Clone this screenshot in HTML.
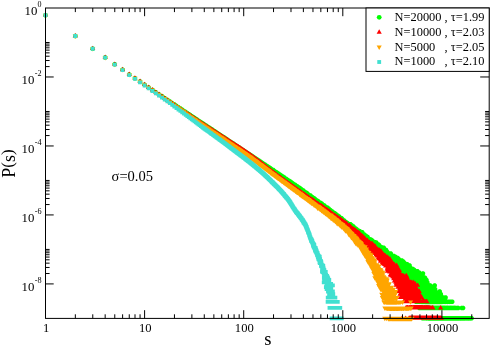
<!DOCTYPE html>
<html><head><meta charset="utf-8"><title>P(s)</title>
<style>
html,body{margin:0;padding:0;background:#fff;}
body{width:491px;height:346px;overflow:hidden;position:relative;font-family:"Liberation Serif",serif;}
svg text{font-family:"Liberation Serif",serif;fill:#000;}
</style></head><body>
<svg width="491" height="346" viewBox="0 0 491 346" style="position:absolute;left:0;top:0;will-change:transform">
<path fill="#00ff00" fill-rule="evenodd" d="M420.19 318.31L420.31 318.44L420.31 319.06L420.56 319.56L421.31 320.31L421.81 320.56L422.44 320.56L422.56 320.69L422.69 320.56L423.69 320.56L423.81 320.69L424.06 320.56L424.31 320.69L424.44 320.56L425.56 320.56L425.69 320.69L425.81 320.56L426.06 320.56L426.19 320.69L426.56 320.69L426.69 320.56L426.81 320.69L426.94 320.56L427.06 320.69L427.19 320.56L427.56 320.56L427.69 320.69L427.81 320.56L427.94 320.69L428.06 320.56L428.19 320.69L459.81 320.69L459.94 320.56L460.06 320.69L461.31 320.69L461.44 320.56L461.56 320.69L462.31 320.69L462.44 320.56L462.56 320.69L463.69 320.69L463.81 320.56L463.94 320.69L464.56 320.69L464.69 320.56L464.81 320.69L465.06 320.69L465.19 320.56L465.44 320.56L465.56 320.69L466.19 320.69L466.31 320.56L466.56 320.69L466.81 320.69L466.94 320.56L467.06 320.69L467.31 320.56L467.44 320.69L467.81 320.69L467.94 320.56L468.06 320.69L468.31 320.56L468.44 320.69L469.31 320.69L469.44 320.56L469.69 320.69L469.94 320.56L470.06 320.69L470.19 320.56L470.31 320.69L470.56 320.56L470.69 320.69L470.94 320.69L471.06 320.56L471.31 320.69L471.44 320.56L471.56 320.69L471.69 320.56L472.31 320.56L472.81 320.31L473.56 319.56L473.81 319.06L473.81 318.44L473.94 318.31L473.81 318.19L473.81 317.56L473.56 317.06L472.81 316.31L472.31 316.06L471.69 316.06L471.56 315.94L471.44 316.06L471.31 315.94L471.06 316.06L470.94 315.94L470.69 315.94L470.56 316.06L470.31 315.94L470.19 316.06L470.06 315.94L469.94 316.06L469.69 315.94L469.56 316.06L469.31 315.94L468.44 315.94L468.31 316.06L468.19 315.94L467.94 316.06L467.81 315.94L467.44 315.94L467.31 316.06L467.19 315.94L466.94 316.06L466.81 315.94L466.56 315.94L466.44 316.06L466.19 315.94L465.56 315.94L465.44 316.06L465.19 316.06L465.06 315.94L464.81 315.94L464.69 316.06L464.56 315.94L463.94 315.94L463.81 316.06L463.69 315.94L462.56 315.94L462.44 316.06L462.31 315.94L461.56 315.94L461.44 316.06L461.31 315.94L460.06 315.94L459.94 316.06L459.81 315.94L428.19 315.94L428.06 316.06L427.94 315.94L427.81 316.06L427.69 315.94L427.56 316.06L427.19 316.06L427.06 315.94L426.94 316.06L426.81 315.94L426.69 316.06L426.56 315.94L426.19 315.94L426.06 316.06L425.81 316.06L425.69 315.94L425.56 316.06L424.44 316.06L424.31 315.94L424.06 316.06L423.81 315.94L423.69 316.06L422.69 316.06L422.56 315.94L422.44 316.06L421.81 316.06L421.31 316.31L420.56 317.06L420.31 317.56L420.31 318.19ZM417.06 307.94L417.19 308.06L417.19 308.69L417.44 309.19L418.19 309.94L418.69 310.19L419.31 310.19L419.44 310.31L419.56 310.19L420.44 310.19L420.56 310.31L420.69 310.19L420.81 310.31L420.94 310.19L421.19 310.31L421.44 310.19L421.81 310.19L421.94 310.31L422.06 310.19L422.19 310.31L422.31 310.19L422.56 310.31L422.69 310.19L422.81 310.31L422.94 310.19L423.19 310.31L423.31 310.19L423.56 310.31L423.81 310.19L423.94 310.31L424.44 310.31L424.56 310.19L424.69 310.31L424.81 310.19L424.94 310.31L425.19 310.19L425.31 310.31L425.56 310.31L425.69 310.19L425.81 310.31L425.94 310.19L426.06 310.31L444.94 310.31L445.06 310.19L445.19 310.31L445.44 310.31L445.56 310.19L445.69 310.31L445.94 310.31L446.06 310.19L446.19 310.31L448.31 310.31L448.44 310.19L448.69 310.31L448.81 310.19L448.94 310.31L449.06 310.19L449.19 310.31L449.44 310.19L449.69 310.31L450.56 310.31L450.69 310.19L450.81 310.31L451.31 310.31L451.44 310.19L451.56 310.31L451.69 310.19L451.81 310.31L451.94 310.19L452.19 310.31L452.44 310.19L452.56 310.31L452.81 310.19L453.06 310.31L453.19 310.19L453.44 310.31L453.69 310.31L453.81 310.19L454.06 310.19L454.19 310.31L454.44 310.19L454.56 310.31L454.94 310.31L455.06 310.19L455.31 310.31L455.56 310.19L455.81 310.19L455.94 310.31L456.06 310.19L456.94 310.19L457.19 310.31L457.31 310.19L457.81 310.19L457.94 310.31L458.06 310.19L458.19 310.31L458.31 310.19L458.94 310.19L459.44 309.94L459.94 309.44L461.06 310.19L461.69 310.19L461.81 310.31L461.94 310.19L462.94 310.19L463.06 310.31L463.19 310.19L463.81 310.19L464.31 309.94L465.06 309.19L465.31 308.69L465.31 308.06L465.44 307.94L465.31 307.81L465.31 307.19L465.06 306.69L464.31 305.94L463.81 305.69L463.19 305.69L463.06 305.56L462.94 305.69L461.94 305.69L461.81 305.56L461.69 305.69L461.06 305.69L460.56 305.94L460.06 306.44L458.94 305.69L458.31 305.69L458.19 305.56L458.06 305.69L457.94 305.56L457.81 305.69L457.31 305.69L457.19 305.56L456.94 305.69L456.06 305.69L455.94 305.56L455.81 305.69L455.56 305.69L455.44 305.56L455.19 305.69L454.94 305.56L454.56 305.56L454.44 305.69L454.31 305.56L454.06 305.69L453.81 305.69L453.69 305.56L453.44 305.56L453.31 305.69L453.06 305.56L452.94 305.69L452.69 305.56L452.44 305.69L452.31 305.56L452.06 305.69L451.81 305.56L451.69 305.69L451.56 305.56L451.44 305.69L451.31 305.56L450.81 305.56L450.69 305.69L450.56 305.56L449.69 305.56L449.56 305.69L449.31 305.56L449.06 305.69L448.94 305.56L448.81 305.69L448.69 305.56L448.56 305.69L448.31 305.56L446.19 305.56L446.06 305.69L445.94 305.56L445.69 305.56L445.56 305.69L445.44 305.56L445.19 305.56L445.06 305.69L444.94 305.56L426.06 305.56L425.94 305.69L425.81 305.56L425.69 305.69L425.56 305.56L425.31 305.56L425.19 305.69L425.06 305.56L424.81 305.69L424.69 305.56L424.56 305.69L424.44 305.56L423.94 305.56L423.81 305.69L423.69 305.56L423.44 305.69L423.19 305.56L423.06 305.69L422.81 305.56L422.69 305.69L422.56 305.56L422.44 305.69L422.19 305.56L422.06 305.69L421.94 305.56L421.81 305.69L421.44 305.69L421.31 305.56L421.06 305.69L420.81 305.56L420.69 305.69L420.56 305.56L420.44 305.69L419.56 305.69L419.44 305.56L419.31 305.69L418.69 305.69L418.19 305.94L417.44 306.69L417.19 307.19L417.19 307.81ZM146.69 86.19L146.44 86.69L146.44 87.31L146.31 87.44L146.44 87.56L146.44 88.19L146.69 88.69L147.44 89.44L147.94 89.69L148.56 89.69L148.69 89.81L148.81 89.69L149.44 89.69L150.06 89.31L150.19 89.44L150.19 89.81L150.06 89.94L150.19 90.06L150.19 90.69L150.44 91.19L151.19 91.94L151.69 92.19L152.31 92.19L152.44 92.31L152.56 92.19L153.19 92.19L153.31 92.06L153.56 92.31L153.56 92.94L153.81 93.44L154.56 94.19L155.06 94.44L155.69 94.44L155.81 94.56L155.94 94.44L156.69 94.44L156.81 94.56L156.81 95.19L157.06 95.69L157.81 96.44L158.31 96.69L158.94 96.69L159.06 96.81L159.19 96.69L159.69 96.69L160.06 97.56L160.81 98.31L161.31 98.56L161.94 98.56L162.06 98.69L162.19 98.56L162.44 98.56L162.81 99.44L163.56 100.19L164.06 100.44L164.69 100.44L164.81 100.56L165.06 100.44L165.44 101.19L166.19 101.94L166.69 102.19L167.31 102.19L167.56 102.31L167.81 102.81L168.56 103.56L169.06 103.81L169.69 103.81L169.94 103.94L170.19 104.44L170.94 105.19L171.44 105.44L172.06 105.44L172.31 105.56L173.19 106.56L173.69 106.81L174.19 106.81L174.44 107.31L175.19 108.06L175.69 108.31L176.31 108.31L177.19 109.31L177.69 109.56L178.31 109.56L179.19 110.56L179.69 110.81L180.06 110.81L180.94 111.81L181.44 112.06L181.81 112.06L182.69 113.06L183.19 113.31L183.69 113.31L184.44 114.06L184.94 114.31L185.19 114.31L186.06 115.19L186.56 115.44L186.81 115.44L187.69 116.31L188.19 116.56L188.44 116.56L189.19 117.31L189.69 117.56L189.94 117.56L190.56 118.19L191.06 118.44L191.31 118.44L192.06 119.19L192.69 119.44L193.31 120.06L193.81 120.31L194.06 120.31L194.69 120.94L195.31 121.19L195.94 121.81L196.56 122.06L197.19 122.69L197.69 122.94L197.94 122.94L198.44 123.44L199.06 123.69L199.56 124.19L200.06 124.44L200.31 124.44L200.81 124.94L201.44 125.19L201.94 125.69L202.31 125.81L202.94 126.44L203.56 126.69L204.06 127.19L204.69 127.44L205.06 127.81L205.44 127.94L206.06 128.56L206.69 128.81L207.06 129.19L207.69 129.44L208.06 129.81L208.44 129.94L208.94 130.44L209.56 130.69L209.94 131.06L211.19 131.69L212.56 132.81L213.81 133.44L214.31 133.94L215.44 134.56L215.94 135.06L216.31 135.19L216.69 135.56L217.06 135.69L217.44 136.06L217.81 136.19L218.19 136.56L218.56 136.69L218.94 137.06L219.31 137.19L219.69 137.56L220.06 137.69L221.19 138.56L222.69 139.31L223.81 140.31L225.31 141.06L225.81 141.56L226.56 141.94L227.69 142.94L229.19 143.69L230.06 144.44L230.69 144.69L231.69 145.56L232.31 145.81L232.81 146.31L233.44 146.56L234.94 147.69L235.56 147.94L236.44 148.69L237.06 148.94L237.44 149.31L237.81 149.44L238.31 149.94L238.69 150.06L239.31 150.69L241.44 151.81L242.81 152.94L243.44 153.19L246.06 155.06L246.69 155.31L247.31 155.94L247.94 156.19L248.44 156.69L248.81 156.81L249.56 157.56L250.19 157.81L250.56 158.19L251.94 158.81L253.31 159.94L253.69 160.06L254.06 160.44L255.44 161.19L255.94 161.69L256.69 162.06L257.19 162.56L259.06 163.56L259.81 164.31L261.06 164.94L262.06 165.94L262.69 166.19L263.19 166.69L263.69 166.94L264.06 166.94L264.94 167.81L265.44 168.06L265.69 168.06L266.69 169.06L267.19 169.31L267.44 169.31L267.69 169.56L268.81 170.06L269.31 170.56L269.94 170.94L270.69 171.69L272.56 172.69L273.94 173.81L274.94 174.19L275.94 175.06L276.44 175.31L277.31 176.19L277.81 176.44L278.19 176.44L279.19 177.44L279.81 177.69L280.69 178.44L281.31 178.69L282.06 179.31L282.94 179.69L284.31 180.94L285.56 181.44L287.06 182.81L287.56 183.06L287.81 183.06L289.81 184.56L290.19 184.69L291.06 185.56L291.69 185.81L292.19 186.31L293.19 186.81L295.06 188.56L295.56 188.81L295.94 188.81L296.69 189.44L297.56 189.81L298.19 190.44L298.56 190.56L298.81 190.81L299.06 191.44L299.81 192.19L300.31 192.44L300.94 192.44L301.06 192.56L301.31 192.56L303.56 194.56L304.06 194.81L304.31 194.81L304.69 195.19L305.06 195.31L306.69 196.69L307.06 196.81L307.56 197.31L307.94 197.44L308.56 198.06L308.94 198.19L309.69 198.94L309.81 198.94L310.94 200.19L311.44 200.44L312.06 200.56L312.44 200.81L313.56 202.06L314.06 202.31L314.44 202.31L315.31 203.19L315.69 203.31L316.06 203.69L317.31 204.44L318.69 205.94L319.31 206.19L319.94 206.81L321.19 207.31L322.06 208.31L323.31 208.81L325.56 211.06L326.06 211.31L326.31 211.31L327.81 212.81L328.19 212.94L329.06 213.94L329.44 214.06L330.44 215.06L330.94 215.31L331.44 215.31L332.19 215.81L333.56 217.19L333.69 217.19L335.31 218.69L335.31 218.94L335.56 219.44L336.31 220.19L336.81 220.44L337.19 220.44L337.69 220.94L338.31 221.19L338.81 221.69L339.19 221.81L339.56 222.19L340.19 222.44L340.56 223.31L341.31 224.06L341.81 224.31L342.31 224.31L343.19 225.31L343.56 225.44L344.19 226.06L344.69 226.31L345.06 226.31L345.44 227.06L346.19 227.81L346.69 228.06L347.31 228.06L350.06 230.69L350.56 230.94L351.06 230.94L352.06 231.94L352.44 232.06L353.06 232.81L353.06 233.44L353.31 233.94L354.06 234.69L354.56 234.94L355.19 234.94L355.31 235.06L355.44 234.94L355.81 235.19L356.56 235.31L357.69 236.31L357.56 236.56L357.69 236.69L357.69 237.31L357.94 237.81L358.69 238.56L359.31 238.81L360.06 239.31L360.69 239.31L360.81 239.44L360.94 239.31L361.31 239.31L362.44 240.31L362.69 240.94L363.44 241.69L363.81 241.81L364.31 242.31L364.81 242.56L365.44 242.56L365.69 242.69L366.06 243.06L366.19 243.44L366.81 244.06L367.06 244.56L367.81 245.31L368.31 245.56L368.94 245.69L369.94 246.44L369.81 246.56L369.94 246.69L369.94 247.31L370.19 247.81L370.94 248.56L371.44 248.81L372.06 248.81L372.44 249.19L372.44 249.44L372.69 249.94L374.06 251.19L374.44 251.31L375.31 252.31L374.81 253.06L374.81 253.69L374.69 253.81L374.81 253.94L374.81 254.56L375.06 255.06L375.81 255.81L376.31 256.06L376.94 256.06L377.06 256.19L377.19 256.06L377.81 256.06L378.31 255.81L378.69 255.44L379.56 256.44L380.06 256.69L380.69 256.69L381.19 256.94L381.81 256.94L382.06 257.19L382.06 257.81L381.94 257.94L382.06 258.06L382.06 258.69L382.31 259.19L383.06 259.94L383.69 260.19L384.19 260.56L385.44 261.94L385.44 262.19L385.31 262.31L385.44 262.44L385.44 263.06L385.69 263.56L386.44 264.31L386.94 264.56L387.56 264.56L387.69 264.69L387.81 264.56L388.44 264.56L389.81 265.81L390.19 265.94L390.44 266.19L390.44 266.69L390.69 267.19L391.44 267.94L391.94 268.19L392.56 268.19L392.69 268.31L392.69 268.56L392.56 268.69L392.56 269.31L392.44 269.44L392.56 269.56L392.56 270.19L392.81 270.69L393.56 271.44L394.06 271.69L394.69 271.69L394.81 271.81L394.94 271.69L395.69 271.69L396.56 272.69L397.06 272.94L397.06 273.44L397.31 273.94L398.06 274.69L398.44 274.81L398.69 275.06L398.81 275.44L399.44 276.06L399.44 276.69L399.31 276.81L399.44 276.94L399.44 277.56L399.69 278.06L400.69 278.94L400.69 279.56L400.94 280.06L401.69 280.81L402.19 281.06L402.81 281.06L402.94 281.19L403.06 281.06L403.69 281.06L404.44 280.56L405.19 281.06L405.81 281.94L405.81 282.31L405.69 282.44L405.81 282.56L405.81 283.19L406.31 283.94L406.31 284.56L406.56 285.06L407.31 285.81L407.31 286.19L407.56 286.69L408.44 287.56L408.44 287.94L408.56 288.06L408.56 288.31L408.44 288.44L408.44 289.06L408.31 289.19L408.44 289.31L408.44 289.94L408.69 290.44L409.94 291.56L409.94 292.19L410.19 292.69L410.94 293.44L411.44 293.69L411.94 293.69L412.06 293.81L412.06 294.06L411.94 294.19L412.06 294.31L412.06 294.94L412.31 295.44L413.06 296.19L413.56 296.44L414.19 296.44L414.31 296.56L414.44 296.44L415.31 296.44L415.44 296.56L415.56 296.44L415.69 296.56L415.56 296.81L415.56 297.44L415.44 297.56L415.56 297.69L415.56 298.31L415.81 298.81L416.44 299.44L416.31 299.56L416.06 299.44L415.94 299.56L415.31 299.56L414.81 299.81L414.06 300.56L413.81 301.06L413.81 301.69L413.69 301.81L413.81 301.94L413.81 302.56L414.06 303.06L414.81 303.81L415.31 304.06L415.94 304.06L416.06 304.19L416.19 304.06L417.19 304.06L417.31 304.19L417.44 304.06L418.06 304.06L418.19 303.94L418.44 304.06L419.06 304.06L419.19 304.19L419.31 304.06L420.31 304.06L420.44 304.19L420.56 304.06L420.69 304.19L420.81 304.06L421.19 304.06L421.31 304.19L421.44 304.06L421.69 304.19L422.31 304.19L422.44 304.06L422.56 304.19L422.81 304.19L422.94 304.06L423.19 304.19L423.44 304.06L423.69 304.19L424.06 304.19L424.19 304.06L424.31 304.19L424.44 304.06L424.56 304.19L435.81 304.19L435.94 304.06L436.06 304.19L439.94 304.19L440.06 304.06L440.19 304.19L440.94 304.19L441.06 304.06L441.19 304.19L441.94 304.19L442.06 304.06L442.31 304.19L442.69 304.19L442.81 304.06L443.06 304.06L443.19 304.19L443.31 304.06L443.44 304.19L443.56 304.06L444.31 304.06L444.44 304.19L444.56 304.06L444.69 304.19L444.81 304.06L445.06 304.19L445.19 304.06L445.44 304.06L445.56 304.19L445.81 304.06L445.94 304.19L446.06 304.06L446.31 304.06L446.44 304.19L446.56 304.06L447.06 304.06L447.19 304.19L447.44 304.06L447.56 304.19L447.69 304.06L447.94 304.19L448.06 304.06L448.94 304.06L449.06 304.19L449.19 304.06L449.44 304.19L449.56 304.06L450.19 304.06L450.31 304.19L450.44 304.06L451.81 304.06L451.94 304.19L452.06 304.06L452.19 304.19L452.31 304.06L452.94 304.06L453.44 303.81L454.19 303.06L454.44 302.56L454.44 301.94L454.56 301.81L454.44 301.69L454.44 301.06L454.19 300.56L453.44 299.81L452.94 299.56L452.31 299.56L452.19 299.44L452.06 299.56L451.94 299.44L451.81 299.56L450.44 299.56L450.31 299.44L450.19 299.56L449.56 299.56L449.44 299.44L449.31 299.56L449.06 299.44L448.94 299.56L448.06 299.56L447.94 299.44L447.81 299.56L447.56 299.44L447.44 299.56L447.06 299.31L447.56 298.81L447.81 298.31L447.81 297.69L447.94 297.56L447.81 297.44L447.81 296.81L447.56 296.31L446.81 295.56L446.31 295.31L445.69 295.31L445.56 295.19L445.44 295.31L444.81 295.31L444.69 295.44L444.44 295.44L444.31 295.31L443.69 295.31L443.56 295.19L443.44 295.31L443.06 295.31L442.94 295.19L443.06 294.94L443.06 294.31L443.19 294.19L443.06 294.06L443.06 293.44L442.81 292.94L441.94 292.06L441.94 291.56L442.06 291.44L441.94 291.31L441.94 290.69L441.69 290.19L440.94 289.44L440.44 289.19L439.81 289.19L439.69 289.06L439.56 289.19L438.94 289.19L438.44 289.44L437.56 290.44L437.31 290.31L437.19 290.06L437.31 289.94L437.31 289.31L437.44 289.19L437.31 289.06L437.31 288.44L437.06 287.94L436.31 287.19L436.94 286.19L436.94 285.56L437.06 285.44L436.94 285.31L436.94 284.69L436.69 284.19L435.94 283.44L435.44 283.19L434.81 283.19L434.69 283.06L434.56 283.19L433.94 283.19L433.44 283.44L432.69 284.19L432.44 284.69L432.19 284.19L431.44 283.44L430.94 283.19L430.31 283.19L430.19 283.06L430.06 283.19L429.81 283.19L429.56 282.94L429.56 282.56L429.69 282.44L429.56 282.31L429.56 281.69L429.31 281.19L428.69 280.56L428.69 280.06L428.81 279.94L428.69 279.81L428.69 279.19L428.44 278.69L427.19 277.56L427.19 276.94L426.94 276.44L426.19 275.69L425.69 275.44L425.06 275.44L424.94 275.31L424.81 275.44L424.69 275.31L424.81 275.06L424.69 274.94L425.19 274.19L425.19 273.56L425.31 273.44L425.19 273.31L425.19 272.69L424.94 272.19L424.19 271.44L423.69 271.19L423.06 271.19L422.94 271.06L422.81 271.19L422.19 271.19L421.44 271.69L420.56 270.69L420.06 270.44L419.69 270.44L418.69 269.31L418.19 269.06L417.56 269.06L417.44 268.94L417.31 269.06L416.69 269.06L416.56 269.19L415.56 268.06L414.94 267.81L414.06 266.94L413.56 266.69L412.94 266.69L412.81 266.56L412.69 266.69L412.44 266.44L412.06 266.31L411.81 266.06L411.81 265.56L411.94 265.44L411.81 265.31L411.81 264.69L411.56 264.19L410.81 263.44L410.31 263.19L409.69 263.19L409.56 263.06L409.31 263.19L408.44 262.19L407.94 261.94L407.31 261.94L407.19 261.81L407.06 261.94L406.69 261.94L405.69 261.06L405.56 260.69L404.44 259.56L403.81 259.31L403.06 258.56L402.56 258.31L401.94 258.31L401.81 258.19L401.69 258.31L400.94 258.31L400.56 257.94L400.44 257.56L398.81 255.94L398.31 255.69L397.69 255.69L396.94 254.94L396.44 254.69L395.94 254.69L395.19 253.94L394.69 253.69L394.06 253.69L393.94 253.56L393.81 253.69L393.31 253.69L392.94 253.19L392.94 252.81L392.69 252.31L391.94 251.56L391.44 251.31L390.81 251.31L390.69 251.19L390.56 251.31L389.94 251.31L389.81 251.44L389.19 250.81L389.06 250.44L388.31 249.69L388.31 249.31L388.06 248.81L387.31 248.06L386.81 247.81L386.19 247.81L385.94 247.56L385.94 247.06L385.69 246.56L384.94 245.81L384.44 245.56L383.81 245.56L383.69 245.44L383.56 245.56L382.94 245.19L382.56 245.19L381.81 244.69L381.19 244.56L380.81 243.56L379.56 242.44L379.06 242.19L378.56 242.19L378.19 241.31L377.44 240.56L376.94 240.31L376.31 240.31L376.19 240.19L376.06 240.31L375.69 240.06L375.06 240.06L374.94 239.94L374.81 240.06L374.56 239.81L374.44 239.44L373.69 238.69L373.31 238.56L372.69 237.94L371.44 237.31L370.94 237.31L370.56 237.06L369.94 237.06L369.81 236.94L369.81 236.31L369.56 235.81L368.81 235.06L368.31 234.81L368.06 234.81L367.06 233.69L366.56 233.44L366.31 233.44L365.44 232.44L364.94 232.19L364.56 232.19L364.44 232.06L364.44 231.56L364.19 231.06L363.44 230.31L362.94 230.06L362.31 230.06L362.19 229.94L362.06 230.06L361.81 230.06L361.06 229.31L360.56 229.06L360.19 229.06L359.81 228.69L359.31 228.44L358.94 228.44L357.94 227.31L357.56 227.19L356.94 226.56L355.94 226.19L355.69 225.94L355.44 225.31L354.69 224.56L354.19 224.31L353.81 224.31L352.94 223.31L352.56 223.19L351.69 222.31L351.19 222.06L350.56 222.06L350.44 221.94L350.31 222.06L349.94 222.06L349.19 221.69L348.56 221.06L347.94 220.81L347.31 220.19L346.69 219.94L345.31 218.44L344.81 218.19L344.44 218.19L344.19 217.69L342.81 216.19L342.31 215.94L341.69 215.94L341.19 215.56L341.06 215.19L340.31 214.44L339.69 214.19L339.19 213.69L338.19 213.31L337.19 212.19L336.81 212.06L335.94 211.19L335.44 210.94L334.94 210.94L333.81 209.69L333.31 209.44L333.06 209.44L332.56 208.94L332.19 208.81L331.44 208.06L330.81 207.81L330.56 207.31L329.81 206.56L329.44 206.44L328.69 205.69L327.94 205.31L327.31 205.31L327.06 205.19L325.56 203.56L324.19 202.94L323.19 201.81L322.56 201.56L322.06 201.06L321.56 200.81L320.94 200.69L319.06 198.94L318.56 198.69L318.06 198.69L317.31 197.94L316.94 197.81L315.94 196.69L315.56 196.56L315.19 196.19L314.56 195.94L313.69 195.19L313.06 194.94L312.56 194.56L311.69 193.56L310.94 193.19L310.44 193.19L309.81 192.69L309.44 192.56L308.06 191.06L307.56 190.81L307.31 190.81L306.81 190.44L306.44 190.31L305.94 189.81L305.56 189.69L304.56 188.56L304.06 188.31L303.69 188.31L302.81 187.44L302.19 187.06L301.56 186.44L301.19 186.31L300.06 185.44L299.56 185.19L299.31 185.19L298.69 184.56L298.19 184.31L297.94 184.31L297.56 184.06L296.19 182.69L295.69 182.44L295.19 182.44L294.94 182.31L293.69 181.19L292.69 180.56L292.06 179.94L291.69 179.81L290.94 179.19L288.69 177.94L287.56 176.94L287.06 176.69L286.81 176.69L286.44 176.44L285.56 175.56L284.81 175.19L284.31 174.69L283.69 174.44L283.44 174.19L281.81 173.31L281.31 172.81L280.94 172.69L280.06 171.81L279.06 171.44L278.31 170.69L277.69 170.44L277.31 170.06L276.31 169.69L275.81 169.19L275.44 169.06L274.56 168.06L274.06 167.81L273.56 167.81L273.31 167.69L272.81 167.19L272.44 167.06L271.56 166.19L270.44 165.56L270.19 165.56L268.81 164.44L268.44 164.31L268.06 163.94L267.06 163.44L266.44 162.81L265.81 162.56L265.44 162.19L264.81 161.94L264.31 161.44L263.06 160.81L261.81 159.69L260.81 159.31L260.06 158.56L258.81 157.94L258.19 157.31L257.81 157.19L257.56 156.94L256.69 156.56L256.19 156.06L255.06 155.44L254.56 154.94L253.81 154.56L253.44 154.19L253.06 154.06L252.44 153.56L252.06 153.44L251.69 153.06L250.94 152.69L250.56 152.31L249.81 151.94L249.06 151.31L248.44 151.06L247.69 150.56L247.06 149.94L246.44 149.69L245.81 149.19L245.44 149.06L244.06 147.94L242.56 147.19L242.19 146.81L241.81 146.69L241.31 146.19L240.94 146.06L240.44 145.56L239.81 145.31L239.44 144.94L238.81 144.69L237.94 143.94L237.31 143.69L236.94 143.31L236.56 143.19L235.81 142.56L235.44 142.44L234.81 141.81L234.31 141.56L234.06 141.56L233.06 140.69L232.44 140.44L231.94 139.94L230.06 138.94L228.94 137.94L228.56 137.81L227.06 136.69L226.19 136.31L225.06 135.31L223.31 134.44L222.94 134.06L222.56 133.94L222.19 133.56L221.81 133.44L221.44 133.06L221.06 132.94L220.69 132.56L220.31 132.44L219.94 132.06L219.56 131.94L219.19 131.56L218.06 130.94L217.56 130.44L216.44 129.81L215.94 129.31L214.69 128.69L213.31 127.56L211.81 126.81L211.44 126.44L211.06 126.31L210.56 125.81L209.94 125.56L209.56 125.19L208.94 124.94L208.56 124.56L208.19 124.44L207.56 123.81L206.94 123.56L206.56 123.19L205.94 122.94L205.44 122.44L205.06 122.31L204.44 121.69L203.81 121.44L203.31 120.94L202.81 120.69L202.56 120.69L202.06 120.19L201.44 119.94L200.94 119.44L200.44 119.19L200.19 119.19L199.69 118.69L199.06 118.44L198.44 117.81L197.81 117.56L197.19 116.94L196.69 116.69L196.44 116.69L195.81 116.06L195.19 115.81L194.56 115.19L194.06 114.94L193.81 114.94L193.06 114.19L192.56 113.94L192.31 113.94L191.69 113.31L191.19 113.06L190.94 113.06L190.19 112.31L189.69 112.06L189.44 112.06L188.56 111.19L188.06 110.94L187.81 110.94L186.94 110.06L186.44 109.81L185.94 109.81L185.19 109.06L184.69 108.81L184.31 108.81L183.44 107.81L182.94 107.56L182.56 107.56L181.69 106.56L181.19 106.31L180.56 106.31L179.69 105.31L179.19 105.06L178.56 105.06L177.69 104.06L177.19 103.81L176.69 103.81L176.44 103.31L175.69 102.56L175.19 102.31L174.56 102.31L174.31 102.19L173.44 101.19L172.94 100.94L172.31 100.94L172.06 100.81L171.81 100.31L171.06 99.56L170.56 99.31L169.94 99.31L169.69 99.19L169.44 98.69L168.69 97.94L168.19 97.69L167.56 97.69L167.44 97.56L167.19 97.69L166.81 96.94L166.06 96.19L165.56 95.94L164.94 95.94L164.81 95.81L164.69 95.94L164.44 95.94L164.06 95.06L163.31 94.31L162.81 94.06L162.19 94.06L162.06 93.94L161.94 94.06L161.44 94.06L161.06 93.19L160.31 92.44L159.81 92.19L159.19 92.19L159.06 92.06L158.94 92.19L158.19 92.19L158.06 92.06L158.06 91.44L157.81 90.94L157.06 90.19L156.56 89.94L155.94 89.94L155.81 89.81L155.69 89.94L155.06 89.94L154.94 90.06L154.69 89.81L154.69 89.19L154.44 88.69L153.69 87.94L153.19 87.69L152.56 87.69L152.44 87.56L152.31 87.69L151.69 87.69L151.06 88.06L150.94 87.94L150.94 87.56L151.06 87.44L150.94 87.31L150.94 86.69L150.69 86.19L149.94 85.44L149.44 85.19L148.81 85.19L148.69 85.06L148.56 85.19L147.94 85.19L147.44 85.44ZM446.94 299.44L447.06 299.31L447.19 299.44L447.06 299.56ZM381.94 257.06L382.06 256.94L382.19 257.06L382.06 257.19ZM144.56 82.31L144.44 82.44L143.81 82.44L143.31 82.69L142.56 83.44L142.31 83.94L142.31 84.56L142.19 84.69L142.31 84.81L142.31 85.44L142.56 85.94L143.31 86.69L143.81 86.94L144.44 86.94L144.56 87.06L144.69 86.94L145.31 86.94L145.81 86.69L146.56 85.94L146.81 85.44L146.81 84.81L146.94 84.69L146.81 84.56L146.81 83.94L146.56 83.44L145.81 82.69L145.31 82.44L144.69 82.44ZM140.06 79.19L139.94 79.31L139.31 79.31L138.81 79.56L138.06 80.31L137.81 80.81L137.81 81.44L137.69 81.56L137.81 81.69L137.81 82.31L138.06 82.81L138.81 83.56L139.31 83.81L139.94 83.81L140.06 83.94L140.19 83.81L140.81 83.81L141.31 83.56L142.06 82.81L142.31 82.31L142.31 81.69L142.44 81.56L142.31 81.44L142.31 80.81L142.06 80.31L141.31 79.56L140.81 79.31L140.19 79.31ZM134.94 75.81L134.81 75.94L134.19 75.94L133.69 76.19L132.94 76.94L132.69 77.44L132.69 78.06L132.56 78.19L132.69 78.31L132.69 78.94L132.94 79.44L133.69 80.19L134.19 80.44L134.81 80.44L134.94 80.56L135.06 80.44L135.69 80.44L136.19 80.19L136.94 79.44L137.19 78.94L137.19 78.31L137.31 78.19L137.19 78.06L137.19 77.44L136.94 76.94L136.19 76.19L135.69 75.94L135.06 75.94ZM129.19 72.19L129.06 72.31L128.44 72.31L127.94 72.56L127.19 73.31L126.94 73.81L126.94 74.44L126.81 74.56L126.94 74.69L126.94 75.31L127.19 75.81L127.94 76.56L128.44 76.81L129.06 76.81L129.19 76.94L129.31 76.81L129.94 76.81L130.44 76.56L131.19 75.81L131.44 75.31L131.44 74.69L131.56 74.56L131.44 74.44L131.44 73.81L131.19 73.31L130.44 72.56L129.94 72.31L129.31 72.31ZM122.56 67.31L122.44 67.44L121.81 67.44L121.31 67.69L120.56 68.44L120.31 68.94L120.31 69.56L120.19 69.69L120.31 69.81L120.31 70.44L120.56 70.94L121.31 71.69L121.81 71.94L122.44 71.94L122.56 72.06L122.69 71.94L123.31 71.94L123.81 71.69L124.56 70.94L124.81 70.44L124.81 69.81L124.94 69.69L124.81 69.56L124.81 68.94L124.56 68.44L123.81 67.69L123.31 67.44L122.69 67.44ZM114.69 61.94L114.56 62.06L113.94 62.06L113.44 62.31L112.69 63.06L112.44 63.56L112.44 64.19L112.31 64.31L112.44 64.44L112.44 65.06L112.69 65.56L113.44 66.31L113.94 66.56L114.56 66.56L114.69 66.69L114.81 66.56L115.44 66.56L115.94 66.31L116.69 65.56L116.94 65.06L116.94 64.44L117.06 64.31L116.94 64.19L116.94 63.56L116.69 63.06L115.94 62.31L115.44 62.06L114.81 62.06ZM105.19 55.06L105.06 55.19L104.44 55.19L103.94 55.44L103.19 56.19L102.94 56.69L102.94 57.31L102.81 57.44L102.94 57.56L102.94 58.19L103.19 58.69L103.94 59.44L104.44 59.69L105.06 59.69L105.19 59.81L105.31 59.69L105.94 59.69L106.44 59.44L107.19 58.69L107.44 58.19L107.44 57.56L107.56 57.44L107.44 57.31L107.44 56.69L107.19 56.19L106.44 55.44L105.94 55.19L105.31 55.19ZM92.69 46.31L92.56 46.44L91.94 46.44L91.44 46.69L90.69 47.44L90.44 47.94L90.44 48.56L90.31 48.69L90.44 48.81L90.44 49.44L90.69 49.94L91.44 50.69L91.94 50.94L92.56 50.94L92.69 51.06L92.81 50.94L93.44 50.94L93.94 50.69L94.69 49.94L94.94 49.44L94.94 48.81L95.06 48.69L94.94 48.56L94.94 47.94L94.69 47.44L93.94 46.69L93.44 46.44L92.81 46.44ZM75.31 33.56L75.19 33.69L74.56 33.69L74.06 33.94L73.31 34.69L73.06 35.19L73.06 35.81L72.94 35.94L73.06 36.06L73.06 36.69L73.31 37.19L74.06 37.94L74.56 38.19L75.19 38.19L75.31 38.31L75.44 38.19L76.06 38.19L76.56 37.94L77.31 37.19L77.56 36.69L77.56 36.06L77.69 35.94L77.56 35.81L77.56 35.19L77.31 34.69L76.56 33.94L76.06 33.69L75.44 33.69ZM45.44 12.81L45.31 12.94L44.69 12.94L44.19 13.19L43.44 13.94L43.19 14.44L43.19 15.06L43.06 15.19L43.19 15.31L43.19 15.94L43.44 16.44L44.19 17.19L44.69 17.44L45.31 17.44L45.44 17.56L45.56 17.44L46.19 17.44L46.69 17.19L47.44 16.44L47.69 15.94L47.69 15.31L47.81 15.19L47.69 15.06L47.69 14.44L47.44 13.94L46.69 13.19L46.19 12.94L45.56 12.94Z"/>
<path fill="#ff0000" fill-rule="evenodd" d="M399.44 319.81L443.94 319.81L441.44 315.44L441.19 315.81L441.06 315.81L440.81 315.44L440.56 315.56L440.31 315.44L440.19 315.56L440.06 315.44L439.81 315.81L439.56 315.44L439.44 315.56L439.31 315.44L439.06 315.56L438.94 315.44L438.69 315.44L438.56 315.56L438.44 315.44L438.31 315.56L438.19 315.44L437.94 315.44L437.69 315.81L437.56 315.81L437.31 315.44L437.06 315.56L436.81 315.44L436.69 315.56L436.56 315.44L436.31 315.56L435.69 315.44L435.44 315.81L435.19 315.44L434.94 315.56L434.81 315.44L434.56 315.81L434.31 315.44L434.19 315.56L434.06 315.44L433.69 315.44L433.56 315.56L433.44 315.44L433.31 315.56L433.19 315.44L432.81 315.44L432.69 315.56L432.56 315.44L431.69 315.44L431.56 315.56L431.44 315.44L431.06 315.44L430.94 315.56L430.81 315.44L415.19 315.44L415.06 315.56L414.94 315.44L414.69 315.44L414.56 315.56L414.31 315.44L413.44 315.44L413.31 315.56L413.19 315.44L412.06 315.44L411.94 315.56L411.81 315.44L411.56 315.56L411.31 315.44L411.06 315.56L410.81 315.44L410.69 315.56L410.56 315.44L410.44 315.69L410.19 315.81L409.94 315.44L409.56 316.06L409.19 315.44L409.06 315.56L408.94 315.44L408.56 316.19L408.31 316.44L408.06 317.06L407.81 317.31L407.56 317.94L407.31 318.19L407.06 317.94L406.81 317.31L406.56 317.06L406.31 316.44L406.06 316.19L405.69 315.44L405.06 316.56L404.81 316.81L404.69 317.19L404.44 317.44L404.31 317.81L403.81 318.44L402.06 315.44ZM443.19 309.44L440.69 305.06L438.06 309.44ZM403.31 309.44L435.44 309.44L432.94 305.06L432.56 305.69L432.19 305.06L431.56 306.06L431.19 305.81L430.81 305.06L430.31 305.94L429.94 305.56L429.69 305.06L429.56 305.19L429.44 305.06L429.19 305.44L428.94 305.06L428.81 305.19L428.69 305.06L428.56 305.19L428.44 305.06L428.31 305.19L428.19 305.06L428.06 305.19L427.94 305.06L427.81 305.19L427.69 305.06L427.56 305.19L427.31 305.06L427.06 305.06L426.94 305.19L426.81 305.06L426.31 305.06L426.19 305.19L426.06 305.06L425.81 305.19L425.69 305.06L425.44 305.06L425.31 305.19L425.19 305.06L425.06 305.19L424.94 305.06L424.81 305.19L424.69 305.06L424.44 305.06L424.31 305.19L424.19 305.06L423.94 305.19L423.81 305.06L423.56 305.19L423.44 305.06L423.31 305.19L423.19 305.06L423.06 305.19L422.94 305.06L422.56 305.06L422.44 305.19L422.31 305.06L417.19 305.06L417.06 305.19L416.81 305.06L413.56 305.06L413.44 305.19L413.31 305.06L412.81 305.06L412.69 305.19L412.56 305.06L412.44 305.19L412.31 305.06L412.06 305.19L411.94 305.06L410.81 305.06L410.69 305.19L410.56 305.06L410.44 305.19L410.31 305.06L410.06 305.19L409.94 305.06L409.81 305.19L409.69 305.06L409.44 305.19L409.31 305.06L409.06 305.19L408.94 305.06L408.56 305.69L408.19 305.06L407.94 305.44L407.69 305.06L407.06 305.06L406.81 305.44L406.56 305.06L406.44 305.19L406.19 305.06L406.06 305.19L405.94 305.06ZM148.56 84.69L148.44 85.06L148.19 85.31L148.06 85.69L147.81 85.94L147.69 86.31L147.44 86.56L147.31 86.94L147.06 87.19L146.94 87.56L146.69 87.81L146.06 88.94L151.06 88.94L151.19 89.19L149.81 91.44L154.44 91.44L154.56 91.69L153.31 93.81L157.56 93.81L157.69 93.94L156.44 96.06L160.44 96.06L160.56 96.19L159.44 98.06L163.06 98.06L163.19 98.31L162.19 99.94L165.69 99.94L165.81 100.06L164.81 101.69L168.06 101.69L168.19 101.94L167.31 103.44L170.31 103.44L170.44 103.69L169.69 104.94L172.56 104.94L172.69 105.06L172.44 105.31L171.81 106.44L174.56 106.44L174.69 106.69L174.44 106.94L173.94 107.94L176.56 107.94L176.69 108.06L176.44 108.31L175.94 109.31L178.31 109.31L178.44 109.56L177.81 110.56L180.19 110.56L180.31 110.81L180.06 111.06L179.69 111.81L181.94 111.81L182.06 111.94L181.81 112.19L181.44 112.94L183.69 112.94L183.81 113.06L183.56 113.31L183.19 114.06L185.31 114.06L185.44 114.19L185.19 114.44L184.81 115.19L186.69 115.19L186.81 115.44L186.31 116.19L188.31 116.19L188.44 116.31L188.19 116.56L187.81 117.31L189.69 117.31L189.81 117.44L189.31 118.31L191.06 118.31L191.19 118.44L190.69 119.19L192.31 119.19L192.44 119.44L192.06 120.06L193.81 120.06L193.94 120.19L193.44 121.06L194.94 121.06L195.06 121.31L194.69 121.94L196.19 121.94L196.31 122.06L195.94 122.69L197.44 122.69L197.56 122.81L197.19 123.44L198.56 123.44L198.69 123.56L198.31 124.31L199.69 124.31L199.81 124.44L199.44 125.06L200.81 125.06L200.94 125.19L200.56 125.81L201.81 125.81L201.94 126.06L201.69 126.44L202.94 126.44L203.06 126.56L202.69 127.19L204.06 127.19L204.19 127.31L203.81 127.94L204.94 127.94L205.06 128.19L204.81 128.56L205.94 128.56L206.06 128.81L205.81 129.19L206.81 129.19L206.94 129.44L206.69 129.81L207.81 129.81L207.94 130.06L207.69 130.44L208.69 130.44L208.81 130.56L208.56 131.06L209.69 131.06L209.81 131.31L209.56 131.69L210.56 131.69L210.69 131.81L210.44 132.19L211.44 132.19L211.56 132.31L211.31 132.69L212.31 132.69L212.44 132.94L212.19 133.31L213.06 133.31L213.19 133.44L212.94 133.94L213.81 133.94L213.94 134.06L213.81 134.31L214.69 134.31L214.81 134.56L214.56 134.94L215.56 134.94L215.69 135.06L215.44 135.44L216.31 135.44L216.44 135.56L216.19 135.94L217.06 135.94L217.19 136.06L216.94 136.44L217.81 136.44L217.94 136.56L217.69 136.94L218.44 136.94L218.56 137.06L218.44 137.31L219.31 137.31L219.44 137.44L219.19 137.81L219.94 137.81L220.06 137.94L219.81 138.31L220.69 138.31L220.81 138.44L220.56 138.81L221.31 138.81L221.44 138.94L221.19 139.31L221.94 139.31L222.06 139.44L221.94 139.69L222.69 139.69L222.81 139.81L222.56 140.19L223.19 140.19L223.31 140.31L223.19 140.56L224.06 140.56L224.19 140.69L223.94 141.06L224.56 141.06L224.69 141.19L224.56 141.31L225.31 141.31L225.44 141.44L225.19 141.81L225.81 141.81L225.94 141.94L225.81 142.19L226.31 142.19L226.44 142.31L226.31 142.56L227.06 142.56L227.19 142.69L226.94 143.06L227.56 143.06L227.69 143.19L227.56 143.44L228.19 143.44L228.31 143.56L228.19 143.81L228.69 143.81L228.81 143.94L228.69 144.19L229.31 144.19L229.44 144.31L229.31 144.44L229.81 144.44L229.94 144.56L229.81 144.81L230.56 144.81L230.69 144.94L230.44 145.31L230.94 145.31L231.06 145.44L230.94 145.56L231.56 145.56L231.69 145.69L231.56 145.94L232.06 145.94L232.19 146.06L232.06 146.31L232.56 146.31L232.69 146.44L232.56 146.56L233.19 146.56L233.31 146.69L233.06 147.06L233.56 147.06L233.69 147.19L233.56 147.31L234.06 147.31L234.19 147.44L234.06 147.56L234.69 147.56L234.81 147.69L234.56 148.06L235.06 148.06L235.19 148.19L235.06 148.31L235.44 148.31L235.56 148.44L236.19 148.44L236.31 148.56L236.06 148.94L236.56 148.94L236.69 149.06L236.56 149.31L237.56 149.44L237.69 149.56L237.56 149.69L237.94 149.69L238.06 149.81L237.94 150.06L238.44 150.06L238.56 150.19L238.44 150.44L238.94 150.44L239.06 150.56L238.94 150.69L239.31 150.69L239.44 150.81L239.31 151.06L239.81 151.06L239.94 151.19L239.81 151.31L240.19 151.31L240.31 151.44L240.19 151.56L240.69 151.56L240.81 151.69L240.69 151.94L241.06 151.94L241.19 152.06L241.06 152.31L241.56 152.31L241.69 152.44L241.56 152.56L241.94 152.56L242.06 152.69L241.94 152.81L242.44 152.81L242.56 152.94L242.44 153.19L243.19 153.31L243.31 153.44L243.19 153.56L243.56 153.56L243.69 153.69L243.56 153.81L244.06 153.81L244.19 153.94L244.06 154.19L244.44 154.19L244.56 154.31L244.44 154.56L244.81 154.56L244.94 154.69L244.81 154.81L245.19 154.81L245.31 154.94L245.19 155.06L245.56 155.06L245.69 155.19L245.56 155.44L246.31 155.56L246.44 155.69L246.31 155.81L246.81 155.81L246.94 155.94L246.81 156.19L247.19 156.19L247.31 156.31L247.19 156.44L247.81 156.56L247.94 156.69L247.81 156.81L248.19 156.81L248.31 156.94L248.19 157.19L248.56 157.19L248.69 157.31L248.56 157.56L249.31 157.69L249.44 157.81L249.31 157.94L249.56 157.94L249.69 158.06L250.19 158.06L250.31 158.19L250.06 158.56L250.69 158.69L250.81 158.81L250.69 158.94L251.06 158.94L251.19 159.06L251.06 159.19L251.44 159.19L251.56 159.31L251.44 159.44L251.69 159.44L251.81 159.56L251.69 159.69L252.06 159.69L252.19 159.81L252.06 159.94L252.44 159.94L252.56 160.06L252.44 160.19L252.69 160.19L252.81 160.31L252.69 160.44L253.06 160.44L253.19 160.56L253.06 160.69L253.44 160.69L253.56 160.81L253.44 160.94L253.69 160.94L253.81 161.06L253.69 161.19L254.31 161.31L254.44 161.44L254.31 161.69L254.69 161.69L254.81 161.81L254.69 161.94L255.31 162.06L255.44 162.19L255.31 162.44L255.94 162.56L256.06 162.69L255.94 162.81L256.19 162.81L256.31 162.94L256.19 163.19L257.06 163.44L257.19 163.56L257.06 163.69L257.44 163.69L257.56 163.81L257.44 163.94L257.69 163.94L257.81 164.06L257.69 164.19L258.56 164.44L258.69 164.56L258.56 164.81L258.81 164.81L258.94 164.94L258.81 165.06L259.56 165.06L259.69 165.19L259.44 165.56L259.69 165.56L259.81 165.69L259.69 165.81L259.94 165.81L260.06 165.94L259.94 166.06L260.56 166.19L260.69 166.31L260.56 166.44L261.06 166.56L261.19 166.69L261.06 166.81L261.31 166.81L261.44 166.94L261.31 167.06L262.06 167.06L262.19 167.19L261.94 167.56L262.44 167.69L262.56 167.81L262.44 167.94L262.69 168.06L263.19 168.06L263.31 168.19L263.19 168.31L263.44 168.31L263.56 168.44L263.44 168.69L263.69 168.69L263.81 168.81L263.69 168.94L264.19 169.19L264.44 169.19L264.56 169.31L264.44 169.56L264.94 169.81L265.19 169.81L265.31 169.94L265.19 170.06L265.44 170.06L265.56 170.19L265.44 170.31L265.69 170.31L265.81 170.44L265.69 170.56L265.94 170.69L266.44 170.69L266.56 170.81L266.44 170.94L266.69 170.94L266.81 171.06L266.69 171.31L267.19 171.56L267.06 171.81L267.81 171.81L267.94 171.94L267.81 172.06L268.06 172.06L268.19 172.19L268.06 172.31L268.56 172.44L268.69 172.56L268.56 172.69L268.69 172.81L268.94 172.81L269.06 172.94L268.94 173.06L269.19 173.06L269.31 173.19L269.19 173.31L269.94 173.31L270.06 173.44L269.81 173.81L270.19 173.81L270.56 174.06L270.94 174.06L271.06 174.19L270.94 174.44L271.56 174.56L271.69 174.69L271.56 174.94L272.19 175.19L272.31 175.31L272.19 175.44L272.56 175.44L272.81 175.69L273.06 175.69L273.19 175.81L273.06 175.94L273.31 176.06L273.19 176.31L273.94 176.31L274.06 176.44L273.81 176.81L274.31 176.81L274.44 176.94L274.31 177.06L274.81 177.06L274.94 177.19L274.81 177.31L275.19 177.44L275.31 177.56L275.19 177.69L275.44 177.69L275.56 177.81L275.44 178.06L275.94 178.06L276.19 178.31L276.44 178.31L276.56 178.44L276.44 178.56L276.81 178.56L276.94 178.69L276.81 178.81L277.06 178.94L276.94 179.19L277.56 179.19L277.69 179.31L277.56 179.44L277.94 179.44L278.06 179.56L277.94 179.81L278.44 179.81L278.56 179.94L278.44 180.06L278.94 180.06L279.06 180.19L278.94 180.31L279.31 180.44L279.44 180.56L279.31 180.69L279.56 180.69L279.69 180.81L279.56 180.94L280.06 181.06L280.19 181.19L280.06 181.31L280.44 181.31L280.56 181.44L280.44 181.56L280.69 181.56L280.81 181.69L280.69 181.81L281.19 181.81L281.31 181.94L281.19 182.19L281.81 182.19L282.19 182.56L282.56 182.56L282.69 182.69L282.56 182.81L282.81 182.94L282.69 183.19L282.94 183.19L283.19 183.44L283.56 183.44L283.69 183.56L283.56 183.69L284.06 183.69L284.19 183.81L284.06 184.06L284.44 184.19L284.56 184.31L284.44 184.44L285.06 184.56L285.19 184.69L285.06 184.81L285.31 184.81L285.44 184.94L285.31 185.06L285.94 185.19L286.06 185.31L285.94 185.44L286.31 185.69L286.56 185.69L286.81 185.94L287.06 185.94L287.19 186.06L287.19 186.31L287.06 186.44L287.94 186.56L288.06 186.69L287.81 187.06L288.31 187.06L288.56 187.31L288.94 187.31L289.06 187.44L288.94 187.56L289.69 187.94L289.56 188.19L290.44 188.31L290.56 188.44L290.44 188.69L290.94 188.94L291.19 188.94L291.31 189.06L291.31 189.31L291.19 189.44L291.81 189.44L291.94 189.56L291.81 189.69L292.31 190.06L292.69 190.06L292.81 190.19L292.69 190.31L293.19 190.44L293.31 190.56L293.19 190.69L293.31 190.81L293.94 190.94L294.06 191.06L293.94 191.19L294.69 191.31L294.81 191.44L294.69 191.56L294.94 191.69L294.81 191.94L295.56 192.06L295.69 192.19L295.56 192.44L296.06 192.56L296.19 192.69L296.06 192.81L296.31 192.94L296.19 193.06L297.44 193.31L297.56 193.44L297.44 193.56L297.69 193.69L297.56 193.81L297.81 193.81L297.94 193.94L297.81 194.06L298.31 194.06L298.69 194.31L298.56 194.44L298.69 194.56L299.06 194.56L299.19 194.69L299.06 194.81L299.19 195.06L299.81 195.06L300.31 195.44L300.19 195.56L300.31 195.69L300.19 195.94L300.81 195.94L300.94 196.06L301.19 196.06L301.31 196.19L301.19 196.44L301.56 196.44L301.69 196.56L301.56 196.69L302.31 196.69L302.44 196.81L302.19 197.19L302.56 197.19L302.69 197.31L302.56 197.56L303.19 197.56L303.44 197.94L303.94 197.94L304.06 198.06L303.94 198.19L304.31 198.19L304.44 198.31L304.31 198.44L304.69 198.44L304.81 198.56L304.69 198.69L304.94 198.81L304.81 198.94L305.94 199.06L306.19 199.31L305.94 199.69L306.19 199.69L306.31 199.81L306.19 199.94L306.56 199.94L306.69 200.06L306.56 200.31L307.44 200.56L307.56 200.69L307.44 200.94L308.06 200.94L308.19 201.06L307.94 201.44L308.44 201.44L308.56 201.69L309.31 201.81L309.44 201.94L309.31 202.06L309.56 202.19L310.06 202.19L310.19 202.31L310.06 202.44L310.19 202.56L310.06 202.69L310.31 202.81L310.19 202.94L311.19 202.94L311.31 203.06L311.19 203.19L311.44 203.31L311.31 203.56L311.56 203.56L311.69 203.69L311.56 203.81L311.94 203.81L312.06 203.94L311.94 204.19L312.69 204.19L312.81 204.31L312.69 204.56L312.94 204.56L313.06 204.69L312.94 204.94L313.19 204.94L313.69 205.19L313.56 205.44L314.69 205.44L314.81 205.56L314.56 206.06L315.19 206.06L315.31 206.19L315.19 206.44L315.56 206.44L316.56 206.81L316.31 207.31L317.56 207.44L317.69 207.56L317.56 207.81L317.81 207.94L317.81 208.19L317.69 208.31L318.94 208.31L319.06 208.44L318.69 209.06L319.81 209.19L319.94 209.44L319.69 209.81L320.69 209.81L320.81 209.94L320.69 210.06L321.19 210.06L321.31 210.19L321.19 210.31L321.19 210.44L321.44 210.56L321.31 210.81L322.06 210.81L322.19 210.94L322.06 211.06L322.56 211.06L322.69 211.19L322.31 211.94L324.06 212.06L324.19 212.31L323.81 212.94L324.56 212.94L324.69 213.06L324.56 213.31L325.94 213.44L326.19 213.69L325.94 214.06L326.06 214.19L325.94 214.44L326.56 214.44L326.69 214.56L327.69 214.69L327.81 214.81L327.56 215.06L327.19 215.81L328.44 215.81L328.69 216.06L328.56 216.31L329.94 216.44L330.06 216.56L329.81 216.94L330.69 216.94L330.81 217.06L330.56 217.44L331.31 217.94L331.19 218.19L331.81 218.19L331.94 218.31L331.94 218.56L331.81 218.69L332.44 218.69L332.56 218.81L332.44 219.06L333.31 219.06L333.44 219.19L334.06 219.31L334.19 219.44L334.06 219.56L334.19 219.69L334.06 219.81L334.19 219.81L334.56 220.31L334.81 220.44L334.56 220.94L335.06 220.94L335.81 221.44L335.56 221.94L337.06 221.94L337.19 222.06L337.19 222.31L337.06 222.44L337.44 222.44L337.56 222.56L337.44 222.69L337.81 222.69L337.94 222.81L337.81 222.94L338.19 222.94L338.31 223.06L338.19 223.19L338.56 223.19L338.69 223.31L338.56 223.56L338.94 223.81L338.81 224.06L339.69 224.06L339.81 224.19L339.69 224.31L340.06 224.31L340.19 224.44L339.94 224.81L340.19 224.81L340.31 224.94L340.06 225.44L341.31 225.44L341.44 225.56L341.31 225.81L341.69 225.94L341.81 226.06L341.69 226.19L342.81 226.19L342.94 226.31L342.69 226.69L343.19 226.94L343.19 227.19L343.06 227.31L343.69 227.31L343.81 227.44L344.31 227.44L344.44 227.56L344.06 228.19L344.19 228.31L345.44 228.44L345.56 228.56L345.19 229.19L345.44 229.31L345.31 229.44L345.81 229.44L345.94 229.56L345.81 229.69L346.56 229.81L346.69 229.94L345.94 231.19L348.06 231.19L348.19 231.31L348.06 231.56L348.19 231.69L348.56 231.69L348.69 231.81L349.56 231.81L349.69 232.06L349.44 232.44L350.31 232.44L350.44 232.56L350.19 232.94L350.56 232.94L350.69 233.06L350.56 233.19L350.81 233.19L350.94 233.31L350.81 233.44L351.56 233.44L351.69 233.56L351.19 234.31L351.56 234.31L351.69 234.44L351.56 234.69L352.44 234.69L352.69 234.94L352.19 235.94L353.19 235.94L353.31 236.06L353.19 236.19L353.69 236.19L353.81 236.31L353.69 236.56L354.56 236.56L354.69 236.69L354.56 236.81L355.19 236.81L355.56 237.06L355.44 237.31L355.69 237.44L355.56 237.69L356.06 237.69L356.19 237.81L356.06 238.06L356.19 238.31L356.06 238.44L356.69 238.44L356.81 238.56L356.69 238.69L357.06 238.69L357.19 238.81L357.06 238.94L357.44 238.94L357.56 239.06L357.44 239.31L357.69 239.31L357.81 239.44L357.69 239.56L357.81 239.81L357.56 240.19L357.94 240.19L358.06 240.31L357.81 240.81L358.81 240.81L358.94 240.94L359.19 240.94L359.31 241.19L358.94 241.81L360.31 241.81L360.44 241.94L360.31 242.19L361.19 242.19L361.31 242.31L360.94 242.94L361.69 242.94L362.31 243.19L362.06 243.69L362.19 243.94L361.69 244.81L362.06 244.81L362.19 244.94L362.06 245.06L362.69 245.06L362.81 245.19L362.56 245.56L364.69 245.56L364.81 245.69L364.69 245.94L365.06 245.94L365.19 246.06L364.94 246.44L365.19 246.69L364.94 247.06L366.31 247.06L366.44 247.19L365.94 248.06L366.69 248.06L366.81 248.19L366.44 248.81L367.94 248.81L368.06 248.94L367.81 249.31L368.06 249.44L367.81 249.94L368.06 250.06L368.56 250.06L368.69 250.19L369.19 250.19L369.31 250.31L368.94 250.94L369.81 251.06L369.94 251.19L369.81 251.44L370.06 251.44L370.19 251.56L369.56 252.81L370.19 252.81L370.31 252.94L370.06 253.44L370.56 253.44L370.69 253.56L370.56 253.69L372.06 253.69L372.19 253.94L371.94 254.31L372.69 254.31L372.81 254.44L372.56 254.94L373.44 254.94L373.56 255.06L373.94 255.06L374.06 255.19L373.81 255.69L374.06 255.81L373.94 255.94L374.94 255.94L375.19 256.19L374.44 257.44L376.44 257.44L376.56 257.56L376.44 257.69L376.56 257.81L375.94 258.94L376.81 258.94L376.94 259.06L376.19 260.31L377.94 260.31L378.06 260.44L377.81 260.81L378.69 260.81L378.81 260.94L378.31 261.81L378.44 262.06L378.06 262.69L380.44 262.69L380.56 262.81L379.81 264.19L380.94 264.19L381.06 264.31L380.56 265.31L382.06 265.31L382.19 265.44L382.06 265.69L382.56 265.69L382.69 265.81L382.56 266.06L383.56 266.06L383.69 266.19L383.06 267.44L385.56 267.44L385.69 267.56L385.56 268.06L385.06 268.81L385.31 268.81L385.44 268.94L384.69 270.44L385.56 270.44L385.69 270.56L385.44 270.94L385.69 270.94L385.81 271.06L384.81 272.81L387.31 272.81L387.44 273.06L387.19 273.44L389.31 273.44L389.44 273.56L387.69 276.44L389.31 276.44L389.44 276.69L389.06 277.31L390.56 277.31L390.69 277.56L390.31 278.19L391.69 278.19L391.81 278.31L391.31 279.19L391.69 279.19L391.81 279.31L391.31 280.31L392.94 280.31L393.06 280.44L391.81 282.56L393.69 282.56L393.81 282.81L393.19 283.81L394.44 283.81L394.56 283.94L394.31 284.19L393.69 285.31L394.44 285.31L394.56 285.44L394.31 285.69L393.69 286.81L396.31 286.81L396.44 286.94L395.44 288.69L397.69 288.69L397.81 288.81L396.81 290.69L396.94 290.81L396.56 291.31L396.31 291.94L396.06 292.19L395.69 292.94L398.81 292.94L398.94 293.06L397.44 295.69L399.44 295.69L399.56 295.94L397.81 299.06L403.19 299.06L403.31 299.19L400.94 303.31L429.56 303.31L429.19 302.56L428.94 302.31L428.69 301.69L428.44 301.44L428.19 300.81L427.94 300.56L427.69 299.94L427.44 299.69L427.19 299.06L427.06 298.94L426.94 299.06L426.69 298.94L426.56 299.19L426.31 299.31L426.06 298.94L425.94 299.06L425.81 298.94L425.31 299.81L424.94 299.44L424.69 298.94L424.31 299.06L423.81 298.06L423.56 297.81L423.19 296.94L422.94 296.69L422.56 295.81L422.31 295.56L421.94 294.69L421.81 294.56L421.56 294.81L421.19 294.06L420.94 293.81L420.56 293.06L420.69 292.94L421.81 292.94L421.44 292.19L421.19 291.94L420.94 291.31L420.69 291.06L419.44 288.69L419.19 288.56L418.81 289.19L418.56 288.94L417.81 287.44L417.44 286.94L417.56 286.81L420.19 286.81L419.81 286.06L419.56 285.81L419.31 285.19L419.06 284.94L418.81 284.31L418.56 284.06L418.31 283.44L418.06 283.19L417.81 282.56L417.69 282.44L417.06 283.56L416.81 283.69L416.56 283.44L415.31 281.06L415.06 280.94L414.81 281.44L414.56 281.56L413.31 279.44L412.69 280.56L412.31 280.94L411.44 279.44L411.06 280.06L410.81 279.94L410.56 279.44L410.31 279.81L410.19 279.81L409.94 279.44L409.69 279.81L409.44 279.44L409.31 279.56L409.06 279.31L409.19 279.19L409.81 279.19L408.81 277.44L409.06 277.31L406.44 272.94L406.31 273.06L406.06 272.94L405.94 273.06L405.69 273.69L404.94 274.81L404.69 274.56L404.44 273.94L404.19 273.69L403.81 272.94L403.56 273.06L403.44 273.44L403.06 273.81L402.56 272.94L402.31 273.31L402.19 273.31L401.94 272.94L401.81 273.06L401.56 272.94L401.31 273.06L400.81 272.31L400.94 272.19L402.06 272.19L401.69 271.44L401.44 271.19L401.44 270.94L401.19 270.44L400.94 270.19L400.81 269.81L400.56 269.56L400.44 269.19L399.06 267.06L399.31 266.94L399.06 266.44L398.81 266.19L398.69 265.81L398.44 265.56L398.31 265.19L398.06 264.94L396.69 262.56L396.31 263.31L396.06 263.56L395.94 263.44L395.69 263.81L395.31 263.44L394.69 262.19L394.44 262.06L394.19 261.69L393.94 262.06L393.81 261.81L393.06 261.19L392.19 259.44L391.94 259.31L391.44 258.69L391.19 258.06L390.94 257.81L390.69 257.19L390.44 256.94L390.06 256.19L389.69 256.81L389.56 256.69L389.31 256.81L388.81 256.06L388.56 255.44L388.44 255.31L388.31 255.56L388.06 255.69L387.06 254.06L386.56 254.94L385.81 253.81L385.69 253.44L385.56 253.31L385.44 253.44L385.06 252.81L384.94 252.94L384.81 252.81L384.56 253.19L384.19 252.56L384.06 252.69L383.81 252.44L383.19 251.31L383.06 251.44L382.81 251.31L382.69 250.94L382.44 250.69L382.31 250.31L382.06 250.06L381.94 249.69L381.69 249.44L381.06 248.31L380.56 249.06L380.31 248.81L380.06 248.19L379.81 247.94L379.44 247.19L379.06 247.94L378.81 248.06L378.06 247.06L377.69 246.31L377.31 246.94L376.69 246.06L375.94 244.56L375.56 244.31L375.31 243.69L375.19 243.56L375.06 243.81L374.81 243.94L374.44 243.31L374.31 243.44L373.94 242.81L373.69 243.06L373.44 242.56L372.94 242.19L372.69 241.56L372.44 241.31L372.06 240.56L371.56 241.44L371.31 241.31L371.06 241.56L370.44 240.69L370.31 240.81L369.56 239.56L369.31 239.94L369.06 239.94L368.81 239.56L368.69 239.69L367.44 237.56L366.94 238.31L366.69 238.19L366.44 237.69L366.19 237.81L365.81 237.06L365.19 236.31L364.94 235.69L364.81 235.56L364.56 235.81L364.31 235.56L364.19 235.69L363.94 235.44L363.44 234.44L363.06 234.19L362.94 233.81L362.81 233.69L362.56 234.06L362.31 233.81L361.81 232.81L361.56 233.19L361.31 232.94L361.19 233.06L360.44 231.94L360.31 231.56L360.06 231.31L359.94 230.94L359.81 230.81L359.56 230.94L359.31 230.69L358.94 229.94L358.81 229.94L358.56 230.31L358.31 230.19L358.06 230.31L357.69 229.69L357.56 229.81L357.19 229.44L356.81 228.69L356.56 229.06L356.19 228.81L355.94 228.19L355.44 227.44L355.19 227.69L354.81 227.31L354.56 227.69L354.19 227.31L353.94 226.81L353.69 226.94L353.19 226.44L352.81 225.69L352.31 226.44L350.81 223.94L350.69 224.19L350.44 224.31L349.44 222.56L349.06 223.19L348.94 223.06L348.56 223.44L348.31 223.19L347.81 222.19L347.31 221.81L346.94 221.06L346.81 221.19L346.44 220.69L346.19 220.94L345.94 220.69L345.81 220.81L345.06 219.69L344.69 220.31L344.31 219.69L344.19 219.81L343.44 218.81L343.19 218.94L342.81 218.44L342.69 218.56L342.31 217.94L342.06 218.31L341.69 217.81L341.44 217.19L341.31 217.06L341.06 217.19L340.69 216.56L340.31 217.06L340.19 216.94L340.06 217.06L339.31 215.94L339.19 216.06L338.81 215.56L338.56 215.94L337.81 214.69L337.56 214.94L337.31 214.56L337.06 214.69L336.69 214.06L336.56 214.31L336.31 214.44L335.94 214.06L335.81 213.69L335.69 213.56L335.56 213.69L335.06 212.81L334.81 212.69L334.69 212.94L334.44 213.06L333.94 212.56L333.69 212.69L332.94 211.56L332.69 211.81L332.06 210.94L331.81 211.19L331.31 210.56L331.19 210.69L330.94 210.31L330.56 210.06L330.31 209.56L330.19 209.69L329.94 209.44L329.81 209.56L329.56 209.31L329.06 208.31L328.69 208.94L328.44 208.44L328.19 208.19L328.06 208.31L327.44 207.56L327.19 207.69L326.94 207.31L326.81 207.44L326.31 206.81L326.19 206.94L325.94 206.81L325.69 206.94L325.31 206.31L325.19 206.44L324.69 205.81L324.44 205.69L324.31 205.81L324.06 205.44L323.94 205.56L323.69 205.19L323.31 204.94L323.19 204.56L323.06 204.44L322.94 204.56L322.69 204.31L322.44 203.81L322.31 204.06L322.06 204.19L321.56 203.56L321.19 202.81L320.81 203.44L320.56 203.06L320.31 203.31L319.94 202.81L319.81 202.94L319.69 202.81L319.69 202.69L319.19 202.19L318.81 201.44L318.69 201.56L318.56 201.44L318.31 201.81L317.94 201.31L317.69 201.19L317.56 201.31L316.94 200.56L316.81 200.69L316.69 200.56L316.44 200.69L316.06 200.31L315.81 199.69L315.56 199.44L315.31 199.69L314.56 198.69L314.31 198.81L313.94 198.19L313.69 198.31L312.81 197.31L312.56 197.69L312.19 197.19L311.94 197.31L311.56 196.81L311.19 197.06L310.44 196.19L310.19 196.31L309.44 195.44L309.19 195.56L308.06 194.19L307.81 194.56L307.56 194.19L307.06 193.94L306.69 193.44L306.56 193.56L306.31 193.19L306.06 193.31L305.56 192.56L305.44 192.69L305.19 192.44L304.94 192.56L304.44 191.69L304.31 191.81L303.94 191.56L303.69 191.69L303.06 190.94L302.94 191.06L302.69 191.06L302.44 190.81L302.06 190.06L301.81 190.44L301.44 189.94L301.31 190.06L300.19 188.81L299.94 188.94L299.69 188.56L299.31 188.69L298.94 188.31L298.81 188.44L298.56 188.19L298.44 187.81L298.31 187.69L298.19 187.81L297.94 187.44L297.81 187.56L297.56 187.19L297.44 187.31L297.06 186.69L296.94 186.81L296.69 186.56L296.56 186.69L296.31 186.31L296.06 186.56L295.56 185.81L294.81 185.44L294.56 184.94L293.81 184.56L293.69 184.69L293.19 184.31L292.81 183.81L292.69 183.94L292.31 183.44L292.06 183.56L291.69 183.06L291.56 183.19L291.19 182.69L291.06 182.81L290.69 182.31L290.56 182.44L290.06 181.69L289.94 181.81L289.69 181.69L289.44 181.31L289.31 181.44L288.94 181.31L288.56 180.81L288.44 180.94L288.19 180.69L288.06 180.81L287.56 179.94L287.44 180.06L287.19 179.81L287.06 179.94L286.69 179.69L286.44 179.19L286.19 179.31L285.44 178.69L285.31 178.81L284.94 178.19L284.69 178.19L284.31 177.69L284.19 177.81L283.94 177.56L283.81 177.69L283.44 177.19L283.19 177.31L282.81 176.81L282.69 176.94L282.19 176.44L282.06 176.44L281.69 175.94L281.06 175.56L280.81 175.19L280.69 175.31L279.69 174.44L279.44 174.56L279.19 174.19L278.69 173.94L278.19 173.44L278.06 173.56L277.19 172.69L276.94 172.81L276.44 172.31L276.19 171.81L275.94 171.94L275.44 171.31L274.94 170.94L274.81 171.06L274.44 170.81L273.94 170.19L273.81 170.31L273.56 170.06L273.31 169.56L273.06 169.69L272.81 169.44L272.56 169.44L272.19 168.81L271.81 169.06L271.31 168.31L271.19 168.44L270.19 167.31L269.81 167.56L268.69 166.31L268.56 166.44L268.31 166.31L267.31 165.19L267.19 165.31L266.81 164.81L266.69 164.94L266.44 164.56L266.31 164.69L265.44 163.69L265.19 163.56L265.06 163.69L264.19 162.69L264.06 162.81L263.94 162.69L263.81 162.81L263.31 162.06L262.81 161.69L262.69 161.81L262.44 161.69L261.69 160.69L261.44 160.56L261.31 160.69L260.56 159.81L260.31 159.94L259.69 159.31L259.56 159.31L259.31 158.94L259.19 159.06L258.69 158.81L258.19 158.06L257.94 158.19L257.56 157.69L257.44 157.81L256.94 157.19L256.81 157.31L256.56 156.94L256.31 156.81L256.19 156.94L255.31 155.94L255.19 156.06L254.94 155.69L254.81 155.81L254.31 155.19L254.19 155.31L253.94 155.06L253.81 155.19L253.31 154.44L253.19 154.56L252.94 154.31L252.81 154.44L252.31 153.94L252.31 153.81L252.19 153.69L252.06 153.81L251.56 153.19L251.44 153.31L251.06 153.19L250.44 152.31L250.31 152.44L250.06 152.19L249.94 152.31L249.69 151.94L249.56 152.06L249.31 151.69L249.19 151.81L248.56 151.06L248.44 151.19L248.06 150.94L247.81 150.56L247.56 150.81L247.31 150.44L247.19 150.56L246.19 149.44L246.06 149.56L245.81 149.19L245.56 149.31L245.31 148.94L245.19 149.06L244.94 148.69L244.81 148.81L244.56 148.44L244.44 148.56L244.06 148.06L243.94 148.19L243.69 147.81L243.56 147.94L243.19 147.44L243.06 147.56L242.81 147.19L242.56 147.31L241.94 146.56L241.69 146.69L241.44 146.31L241.19 146.44L240.56 145.69L240.44 145.81L240.06 145.31L239.81 145.44L239.56 145.06L239.44 145.19L239.19 144.81L239.06 144.94L238.69 144.44L238.56 144.56L238.19 144.06L237.94 144.19L237.69 143.81L237.44 143.94L237.19 143.56L237.06 143.69L236.69 143.19L236.44 143.31L236.19 142.94L235.94 143.06L235.69 142.69L235.44 142.81L235.06 142.19L234.81 142.31L234.56 141.94L234.44 142.06L234.06 141.56L233.94 141.69L233.56 141.19L233.31 141.56L232.94 140.94L232.81 141.06L232.44 140.44L232.19 140.69L231.81 140.06L231.69 140.19L231.31 139.69L231.06 139.94L230.69 139.31L230.44 139.56L230.06 138.94L229.81 139.06L229.56 138.69L229.31 138.81L228.94 138.19L228.69 138.44L228.31 137.81L228.06 138.06L227.69 137.44L227.44 137.56L227.06 136.94L226.81 137.19L226.44 136.56L226.19 136.69L225.81 136.06L225.69 136.31L225.44 136.44L225.06 135.81L224.81 135.94L224.44 135.31L224.19 135.44L223.81 134.81L223.56 135.19L223.06 134.31L222.81 134.56L222.44 133.94L222.19 134.31L221.69 133.44L221.44 133.69L220.94 132.94L220.69 133.31L220.19 132.56L219.94 132.81L219.69 132.56L219.56 132.19L219.44 132.06L219.19 132.31L218.69 131.56L218.44 131.94L217.94 131.06L217.69 131.44L217.19 130.56L216.94 130.94L216.31 129.94L216.06 130.31L215.56 129.44L215.44 129.69L215.19 129.81L214.69 128.94L214.44 129.31L213.81 128.31L213.56 128.69L213.31 128.44L212.94 127.69L212.81 127.94L212.56 128.06L212.06 127.19L211.81 127.56L211.56 127.31L211.19 126.56L210.81 127.06L210.19 126.06L209.94 126.44L209.69 126.19L209.31 125.44L209.19 125.69L208.94 125.81L208.31 124.81L208.19 125.06L207.94 125.19L207.31 124.19L207.06 124.56L206.69 124.19L206.31 123.44L206.19 123.69L205.94 123.81L205.69 123.56L205.31 122.81L204.94 123.31L204.19 122.06L204.06 122.31L203.81 122.44L203.56 122.19L203.19 121.44L202.81 121.94L202.06 120.69L201.69 121.31L201.19 120.56L200.94 119.94L200.81 119.81L200.44 120.31L199.69 119.06L199.31 119.69L199.06 119.44L198.44 118.31L198.06 118.94L197.56 118.19L197.31 117.56L197.19 117.44L196.81 118.06L195.94 116.56L195.56 117.19L195.19 116.81L194.56 115.69L194.19 116.31L193.31 114.81L193.06 115.31L192.81 115.44L192.56 115.19L191.81 113.81L191.44 114.44L190.94 113.81L190.44 112.81L189.94 113.56L188.94 111.81L188.69 112.31L188.31 112.56L187.94 111.81L187.69 111.56L187.44 110.94L187.31 110.81L186.81 111.56L186.56 111.31L186.31 110.69L186.06 110.44L185.69 109.69L185.19 110.56L184.94 110.31L184.81 109.94L184.56 109.69L183.94 108.56L183.44 109.44L183.19 109.19L183.06 108.81L182.81 108.56L182.19 107.44L181.69 108.31L180.44 106.19L179.81 107.19L178.44 104.81L178.06 105.56L177.81 105.81L177.06 104.44L176.81 104.19L176.56 103.56L176.44 103.44L176.31 103.56L176.06 104.19L175.81 104.44L174.44 102.06L173.69 103.19L173.31 102.44L173.06 102.19L172.81 101.56L172.56 101.31L172.31 100.69L172.19 100.56L172.06 100.69L171.81 101.31L171.44 101.69L169.81 98.94L169.31 99.94L169.06 100.06L168.81 99.81L168.56 99.19L168.31 98.94L168.06 98.31L167.81 98.06L167.44 97.31L166.81 98.44L166.56 98.56L164.81 95.56L164.19 96.69L163.94 96.94L162.06 93.56L161.56 94.31L161.31 94.94L161.06 95.06L160.81 94.81L160.44 93.94L160.19 93.69L159.81 92.81L159.56 92.56L159.06 91.56L158.56 92.31L158.31 92.94L158.06 93.19L155.81 89.44L154.81 91.19L152.44 87.06L151.81 88.19L151.56 88.44L151.44 88.81L151.19 88.94L150.81 88.19L150.56 87.94L150.31 87.31L150.06 87.06L149.81 86.44L149.56 86.19L149.31 85.56L149.06 85.31L148.81 84.69L148.69 84.56ZM424.06 299.19L424.19 299.06L424.44 299.19L424.31 299.31ZM422.81 299.19L422.94 299.06L423.06 299.19L422.94 299.31ZM421.19 299.19L421.31 299.06L421.94 299.06L422.06 299.19L421.69 299.69L421.56 299.69ZM420.44 299.19L420.56 299.06L420.81 299.19L420.69 299.31ZM406.81 299.19L406.94 299.06L407.06 299.19L406.94 299.31ZM405.31 299.19L405.44 299.06L405.56 299.19L405.44 299.31ZM403.56 299.19L403.69 299.06L403.94 299.19L403.81 299.31ZM398.06 267.06L398.19 266.94L398.44 266.94L398.56 267.06L398.31 267.31ZM144.56 81.69L142.06 86.06L147.06 86.06ZM140.06 78.56L137.44 83.06L142.56 83.06ZM134.94 75.19L132.44 79.69L137.56 79.69ZM129.19 71.56L126.69 76.06L131.81 76.06ZM122.56 66.69L120.06 71.19L125.19 71.19ZM112.19 65.81L117.31 65.81L114.69 61.44ZM105.19 54.44L102.56 58.94L107.69 58.94ZM90.19 50.06L95.31 50.06L92.69 45.69ZM77.81 37.44L75.31 33.06L72.69 37.44ZM42.94 16.56L48.06 16.56L45.44 12.19Z"/>
<path fill="#ffa500" fill-rule="evenodd" d="M382.19 316.81L384.81 321.31L385.31 320.31L385.56 320.06L385.94 320.31L386.44 321.31L386.94 320.31L387.19 320.06L387.56 320.31L388.06 321.31L388.19 321.19L388.44 321.31L388.56 321.19L388.69 321.31L388.81 321.19L389.06 321.31L389.19 321.19L389.31 321.31L389.44 321.19L389.56 321.31L389.69 321.19L389.81 321.31L390.44 321.31L390.56 321.19L390.69 321.31L390.94 320.94L391.06 320.94L391.31 321.31L392.69 321.31L392.81 321.19L392.94 321.31L393.19 321.31L393.31 321.19L393.44 321.31L402.19 321.31L402.31 321.19L402.44 321.31L406.94 321.31L407.06 321.19L407.19 321.31L408.56 321.31L408.69 321.19L408.81 321.31L410.44 321.31L410.56 321.19L410.69 321.31L411.06 321.31L411.19 321.19L411.31 321.31L411.94 321.31L414.56 316.81ZM382.31 306.44L384.81 310.94L384.94 310.81L385.06 310.94L385.81 309.69L386.06 309.94L386.56 310.94L386.69 310.81L386.81 310.94L387.06 310.56L387.31 310.94L387.56 310.81L387.69 310.94L388.06 310.94L388.19 310.81L388.31 310.94L388.56 310.81L388.69 310.94L388.94 310.56L389.19 310.94L389.69 310.94L389.81 310.81L389.94 310.94L392.31 310.94L392.44 310.81L392.56 310.94L392.81 310.94L392.94 310.81L393.06 310.94L393.44 310.94L393.56 310.81L393.69 310.94L395.19 310.94L395.31 310.81L395.44 310.94L395.81 310.94L395.94 310.81L396.06 310.94L398.19 310.94L398.31 310.81L398.56 310.94L399.19 310.94L399.31 310.81L399.44 310.94L399.69 310.81L399.94 310.94L400.19 310.81L400.44 310.94L400.69 310.56L400.94 310.94L401.06 310.81L401.19 310.94L401.31 310.81L401.44 310.94L402.06 310.94L402.19 310.81L402.56 310.94L402.81 310.56L402.94 310.56L403.19 310.94L403.44 310.81L403.56 310.94L403.94 310.94L404.19 310.56L404.44 310.94L404.94 310.19L405.44 310.94L405.56 310.81L405.81 310.94L405.94 310.81L406.06 310.94L406.19 310.81L406.44 310.94L406.56 310.81L406.69 310.94L406.81 310.81L407.06 310.94L407.31 310.81L407.44 310.94L407.69 310.56L407.94 310.94L408.19 310.81L408.69 310.94L408.94 310.44L409.31 310.06L409.81 310.94L410.06 310.56L410.31 310.94L410.69 310.31L411.06 310.94L413.69 306.44ZM413.06 300.44L408.06 300.44L410.56 304.81ZM146.06 85.94L148.69 90.44L149.19 89.44L149.81 88.56L152.44 92.94L153.44 91.19L155.81 95.31L156.44 94.19L156.81 93.81L157.06 94.06L157.19 94.44L157.44 94.69L157.69 95.31L157.94 95.56L159.06 97.56L159.94 96.06L162.06 99.56L162.69 98.44L162.94 98.31L164.81 101.44L165.56 100.19L165.81 100.44L166.06 101.06L166.31 101.31L167.44 103.31L167.94 102.31L168.19 102.19L168.44 102.44L168.69 103.06L168.94 103.31L169.19 103.94L169.44 104.19L169.81 104.94L170.56 103.81L170.81 104.06L171.06 104.69L171.31 104.94L171.56 105.56L171.81 105.81L172.19 106.56L172.56 105.81L172.94 105.56L174.44 108.06L174.81 107.31L175.06 107.19L176.44 109.56L177.06 108.56L178.44 110.94L178.69 110.44L179.06 110.06L179.31 110.31L180.44 112.31L180.94 111.44L182.19 113.56L182.44 113.06L182.81 112.81L183.94 114.81L184.19 114.31L184.56 114.06L184.81 114.31L185.06 114.94L185.31 115.19L185.69 115.94L186.19 115.19L186.44 115.44L186.69 116.06L186.94 116.31L187.31 117.06L187.81 116.31L188.94 118.19L189.31 117.56L189.81 118.19L190.44 119.31L190.81 118.69L191.06 118.94L191.81 120.31L192.06 119.81L192.31 119.69L193.31 121.31L193.69 120.81L194.56 122.31L194.81 121.81L195.06 121.69L195.56 122.44L195.81 123.06L195.94 123.19L196.31 122.69L197.19 124.19L197.56 123.56L198.06 124.19L198.44 124.94L198.81 124.44L199.69 125.94L200.06 125.44L200.81 126.69L201.19 126.06L201.44 126.31L202.06 127.44L202.44 126.94L203.19 128.19L203.44 127.81L203.69 128.06L204.19 129.06L204.56 128.56L205.31 129.81L205.44 129.56L205.69 129.44L205.94 129.69L206.31 130.44L206.44 130.19L206.69 130.06L206.94 130.31L207.31 131.06L207.44 130.81L207.69 130.69L208.31 131.81L208.44 131.56L208.69 131.44L209.31 132.44L209.56 132.06L209.81 132.31L210.19 133.06L210.31 132.81L210.56 132.69L211.19 133.69L211.44 133.31L211.69 133.56L212.06 134.31L212.31 133.94L212.56 134.19L212.94 134.94L213.19 134.56L213.44 134.81L213.81 135.56L213.94 135.31L214.19 135.19L214.69 136.06L214.94 135.69L215.31 136.06L215.56 136.56L215.81 136.31L216.31 137.19L216.56 136.81L216.94 137.19L217.19 137.69L217.44 137.44L217.94 138.31L218.19 137.94L218.69 138.81L218.94 138.44L219.44 139.31L219.69 138.94L220.19 139.81L220.44 139.44L220.94 140.31L221.19 139.94L221.69 140.69L221.94 140.44L222.44 141.19L222.69 141.06L223.06 141.69L223.31 141.44L223.81 142.19L223.94 142.06L224.19 142.19L224.44 142.69L224.69 142.44L225.06 143.06L225.31 142.81L225.81 143.56L226.06 143.31L226.44 143.94L226.69 143.81L227.06 144.44L227.31 144.19L227.69 144.81L227.94 144.69L228.31 145.31L228.56 145.06L228.94 145.69L229.19 145.44L229.56 146.06L229.69 145.94L230.06 146.44L230.31 146.19L230.69 146.81L230.94 146.69L231.31 147.31L231.56 147.19L231.81 147.56L232.06 147.31L232.44 147.94L232.56 147.81L232.94 148.31L233.19 148.19L233.56 148.81L233.81 148.69L234.06 149.06L234.19 148.94L234.56 149.44L234.69 149.31L235.06 149.81L235.31 149.44L235.69 150.06L235.81 149.94L236.19 150.56L236.31 150.44L236.69 150.94L236.81 150.81L237.19 151.31L237.44 151.06L237.69 151.44L237.81 151.31L238.19 151.81L238.31 151.69L238.69 152.19L238.94 152.06L239.56 152.94L239.81 152.81L240.06 153.19L240.31 153.06L240.94 153.81L241.19 153.69L241.44 154.06L241.56 153.94L241.94 154.44L242.06 154.31L242.31 154.69L242.56 154.56L243.19 155.31L243.44 155.19L244.06 155.94L244.31 155.81L244.56 156.19L244.69 156.06L244.94 156.44L245.06 156.31L245.31 156.69L245.44 156.56L245.81 157.06L245.94 156.94L246.19 157.31L246.31 157.19L246.94 157.94L247.06 157.81L247.44 157.94L247.81 158.56L247.94 158.44L248.19 158.69L248.31 158.56L248.94 159.31L249.06 159.19L249.31 159.44L249.44 159.31L249.69 159.69L249.81 159.56L250.06 159.94L250.19 159.81L250.44 160.19L250.56 160.06L251.19 160.81L251.31 160.69L251.81 161.44L251.94 161.31L252.31 161.56L252.56 161.94L252.69 161.81L253.06 162.06L253.19 162.31L253.69 162.56L253.94 162.94L254.06 162.81L254.56 163.44L254.69 163.31L254.94 163.56L255.06 163.44L255.94 164.44L256.06 164.31L256.31 164.56L256.69 164.69L256.94 165.06L257.19 165.19L257.31 165.06L257.81 165.81L257.94 165.69L258.19 166.06L258.31 165.94L259.06 166.94L259.44 166.69L260.19 167.56L260.31 167.44L260.44 167.69L261.06 168.19L261.19 168.06L261.94 168.94L262.06 168.81L262.31 168.94L262.56 169.31L262.69 169.19L263.31 169.81L263.69 169.94L264.19 170.56L264.31 170.44L264.94 171.19L265.06 171.06L265.31 171.19L265.69 171.81L265.94 171.69L266.44 172.31L266.56 172.19L267.06 172.69L267.19 172.56L267.56 173.06L268.44 173.81L268.94 174.06L269.06 173.94L270.81 175.81L270.94 175.69L271.19 175.69L271.69 176.44L271.81 176.31L271.94 176.44L272.06 176.31L272.44 176.94L272.56 176.81L272.81 177.06L273.19 177.19L273.44 177.56L273.56 177.44L274.19 178.06L274.31 177.94L274.81 178.69L275.06 178.56L275.56 179.19L275.81 179.06L276.44 179.94L276.56 179.81L276.94 180.06L277.19 180.44L277.31 180.31L277.56 180.44L277.94 180.94L278.19 181.06L278.44 180.94L279.31 181.81L279.44 181.69L280.06 182.44L280.19 182.31L280.81 183.06L280.94 182.94L281.56 183.69L281.81 183.56L282.06 183.94L282.31 183.81L282.69 184.06L283.44 184.94L283.81 185.19L284.06 185.06L284.56 185.94L284.81 185.81L285.06 185.94L285.31 186.31L285.56 186.44L285.69 186.31L286.06 186.81L286.56 187.19L286.69 187.06L287.31 187.81L287.44 187.69L287.81 188.19L288.06 188.19L288.69 188.94L288.94 188.81L289.19 189.19L289.44 189.19L289.56 189.06L290.31 190.19L290.56 189.94L290.94 190.44L291.31 190.69L291.44 190.56L291.81 190.94L292.06 191.44L292.19 191.31L292.44 191.56L292.56 191.44L292.81 191.81L292.94 191.69L293.31 192.19L293.44 192.06L293.81 192.69L294.06 192.56L294.44 192.69L294.56 192.94L295.06 193.31L295.19 193.69L295.56 194.06L295.69 193.94L295.94 193.94L296.69 194.81L296.81 194.69L297.31 195.19L297.44 195.06L297.69 195.06L298.06 195.56L298.19 195.44L298.44 195.56L299.19 196.44L299.56 197.19L299.69 197.06L299.94 197.31L300.19 197.19L300.56 197.69L300.69 197.56L301.19 198.19L301.31 198.06L301.56 198.44L301.69 198.31L302.19 199.06L302.44 198.69L303.06 199.44L303.19 199.31L303.94 200.06L304.06 199.94L304.44 200.44L304.69 200.56L304.94 200.44L306.06 201.56L306.19 201.81L306.31 201.69L306.56 201.94L306.81 201.69L307.19 202.44L307.44 202.56L307.69 202.94L307.94 202.81L308.31 203.06L308.81 203.81L309.06 203.69L309.56 204.56L309.69 204.31L309.94 204.19L310.44 204.81L310.56 204.69L311.31 205.94L311.69 205.44L311.94 205.81L312.19 205.81L312.56 206.06L312.94 206.56L313.06 206.44L313.31 206.69L313.94 207.81L314.19 207.56L314.44 207.94L314.56 207.69L314.81 207.56L315.19 208.19L315.31 208.06L315.69 208.69L315.94 208.56L316.06 208.81L316.44 209.06L316.56 209.44L316.94 209.81L317.56 210.94L317.94 210.44L318.06 210.56L318.31 210.19L318.69 210.69L319.06 210.94L319.44 211.56L319.69 211.44L319.94 211.69L320.19 212.19L320.44 211.81L320.69 212.06L321.44 213.44L321.56 213.19L321.81 213.06L322.06 213.44L322.19 213.31L322.56 213.94L322.81 213.81L323.06 214.06L323.19 214.44L323.44 214.56L323.81 215.06L323.94 214.81L324.19 214.69L324.31 214.94L324.69 215.19L325.31 216.31L325.44 216.19L325.69 216.31L325.94 215.94L326.19 216.44L326.56 216.69L326.81 217.19L326.94 217.06L327.19 217.19L327.31 217.06L327.94 218.19L328.19 217.94L328.44 218.19L328.94 219.19L329.19 218.81L329.56 219.44L329.81 219.31L330.06 219.56L330.44 220.44L330.56 220.56L330.69 220.44L331.19 221.31L331.44 220.81L331.69 220.69L331.94 221.06L332.06 220.94L332.81 222.31L333.06 222.44L333.31 222.81L333.56 222.44L333.81 222.56L333.94 222.44L334.31 223.06L334.44 222.94L334.69 223.19L334.94 223.81L335.31 224.19L335.56 223.94L335.81 224.19L335.94 224.56L336.19 224.81L336.81 225.94L337.19 225.44L337.56 226.19L337.81 226.44L338.06 226.06L338.44 226.31L339.19 227.31L339.81 227.81L340.06 228.31L340.19 228.19L340.44 228.56L340.69 228.19L340.94 228.44L341.31 229.19L341.81 229.81L342.19 229.19L343.44 230.94L344.06 231.44L344.69 232.56L344.81 232.44L344.94 232.56L345.19 233.19L345.31 233.31L345.44 233.19L345.69 233.56L345.94 233.19L346.19 233.31L346.44 233.69L346.56 233.56L346.81 233.81L347.31 234.81L347.56 235.06L347.94 235.94L348.19 236.19L348.56 237.06L348.69 237.19L348.94 236.81L349.31 237.44L349.56 237.56L349.69 237.44L350.81 239.44L351.06 239.69L351.31 240.31L351.44 240.44L351.81 239.94L351.94 240.06L352.19 240.69L352.44 240.94L352.69 241.56L352.94 241.81L354.31 244.31L354.44 244.19L354.81 244.56L355.69 246.19L356.06 245.56L356.81 246.81L357.06 246.44L357.81 247.69L358.19 247.19L359.19 249.06L359.44 249.31L359.69 249.94L359.94 250.19L361.19 252.56L361.69 253.19L362.44 254.69L363.06 255.44L363.19 255.81L363.44 256.06L364.81 258.44L364.94 258.31L365.06 258.56L365.44 258.81L365.56 259.19L366.19 260.06L366.06 260.19L365.31 260.19L365.56 260.69L365.81 260.94L365.94 261.31L366.19 261.56L366.31 261.94L366.56 262.19L367.81 264.44L368.06 264.56L368.44 265.06L368.69 265.69L369.44 266.81L369.31 266.94L369.56 267.44L369.81 267.69L369.94 268.06L371.31 270.19L371.56 270.81L371.81 271.06L371.69 271.19L372.06 271.81L371.94 271.94L371.31 271.94L373.81 276.19L373.69 276.31L372.31 276.31L372.69 277.06L372.94 277.31L373.19 277.94L373.44 278.19L373.69 278.81L373.94 279.06L374.19 279.69L374.44 279.94L374.69 280.56L374.81 280.69L375.06 280.31L375.44 280.81L375.31 280.94L375.56 281.44L375.81 281.69L375.94 282.06L376.19 282.31L376.31 282.69L377.06 283.81L376.94 283.94L376.06 283.94L376.69 285.06L377.06 285.56L376.94 285.69L377.31 286.44L378.06 287.56L378.44 288.44L378.69 288.69L378.94 289.31L379.19 289.56L380.56 292.06L380.69 291.81L380.94 291.69L381.19 292.06L381.56 291.44L382.19 292.44L382.06 292.69L379.19 292.69L380.94 295.81L380.81 296.06L379.81 296.06L382.19 300.31L382.06 300.44L381.31 300.44L381.69 301.19L381.94 301.44L382.19 302.06L382.44 302.31L382.69 302.94L382.94 303.19L383.19 303.81L383.44 304.06L383.69 304.69L383.81 304.81L383.94 304.56L384.19 304.44L384.44 304.81L384.56 304.69L384.81 304.81L384.94 304.56L385.19 304.44L385.44 304.81L385.69 304.31L385.94 304.19L386.31 304.81L386.44 304.69L386.69 304.81L386.94 304.69L387.06 304.81L387.44 304.81L387.56 304.69L387.81 304.81L387.94 304.69L388.06 304.81L388.31 304.69L388.44 304.81L388.56 304.69L388.81 304.81L389.06 304.69L389.19 304.81L389.31 304.69L389.44 304.81L391.31 304.81L391.44 304.69L391.69 304.81L392.06 304.81L392.19 304.69L392.31 304.81L394.19 304.81L394.31 304.69L394.56 304.81L394.94 304.81L395.06 304.69L395.19 304.81L395.56 304.81L395.69 304.69L395.94 304.81L396.06 304.69L396.19 304.81L396.44 304.81L396.56 304.69L396.69 304.81L396.94 304.44L397.06 304.69L397.31 304.81L397.69 304.19L398.06 304.81L398.31 304.81L398.44 304.69L398.56 304.81L398.94 304.19L399.31 304.81L399.44 304.69L399.56 304.81L399.94 304.19L400.31 304.81L400.56 304.81L400.94 304.06L401.44 303.44L401.69 303.69L402.31 304.81L402.44 304.69L402.56 304.81L402.69 304.69L402.81 304.31L403.06 304.06L403.19 303.69L403.44 303.44L403.56 303.06L403.81 302.81L403.94 302.44L404.19 302.19L404.31 301.81L404.56 301.56L405.19 300.44L397.31 300.44L397.19 300.31L399.56 296.06L396.06 296.06L395.94 295.94L397.81 292.69L397.06 292.69L396.94 292.44L398.31 290.06L394.81 290.06L394.69 289.94L396.06 287.69L393.19 287.69L393.06 287.56L394.19 285.69L390.19 285.69L390.06 285.56L390.44 284.69L390.69 284.44L391.06 283.56L391.31 283.31L391.81 282.31L388.56 282.31L388.44 282.19L389.19 280.94L388.81 280.94L388.69 280.81L388.94 280.56L389.44 279.56L389.19 279.56L389.06 279.44L389.31 279.19L389.69 278.44L388.56 278.44L388.44 278.31L388.69 278.06L389.06 277.31L386.56 277.31L386.44 277.06L386.94 276.31L385.81 276.31L385.69 276.19L386.19 275.31L384.56 275.31L384.44 275.19L384.69 274.56L384.94 274.31L385.31 273.56L384.56 273.56L384.44 273.31L384.81 272.69L384.81 272.44L385.06 272.19L385.56 271.19L384.44 271.19L384.31 270.94L384.56 270.56L382.94 270.56L382.81 270.44L383.56 269.19L382.56 269.19L382.44 269.06L383.06 268.06L380.56 268.06L380.44 267.94L380.69 267.69L381.06 266.94L380.31 266.94L380.19 266.69L381.56 264.44L378.94 264.44L378.81 264.19L379.06 263.94L379.44 263.19L376.81 263.19L376.69 263.06L376.94 262.69L376.69 262.69L376.56 262.56L377.19 261.56L376.31 261.56L376.19 261.44L377.31 259.44L376.19 259.44L376.06 259.19L376.31 258.81L375.69 258.81L375.56 258.69L375.81 258.19L374.56 258.19L374.44 258.06L374.69 257.69L374.44 257.56L375.19 256.31L373.69 256.31L373.56 256.19L373.69 255.94L373.06 255.94L372.94 255.81L373.06 255.69L372.81 255.56L373.06 255.31L373.44 254.56L373.31 254.44L373.69 253.81L372.44 253.81L372.31 253.69L372.81 252.81L370.56 252.81L370.44 252.69L371.44 250.94L368.94 250.81L368.81 250.69L369.19 250.06L369.06 249.94L369.19 249.56L368.56 249.56L368.31 249.44L368.19 249.19L368.56 248.56L368.31 248.44L368.56 248.19L368.94 247.44L367.06 247.44L366.94 247.31L367.06 247.19L366.81 247.19L366.69 247.06L367.69 245.31L365.31 245.31L365.19 245.19L365.56 244.56L364.81 244.56L364.69 244.44L364.81 244.19L363.94 244.19L363.81 244.06L364.06 243.56L363.56 243.56L363.44 243.44L363.69 243.06L363.44 242.94L363.81 242.31L363.44 242.31L363.31 242.19L363.44 242.06L362.69 242.06L362.56 241.94L363.06 241.06L361.44 241.06L361.31 240.94L361.81 240.06L361.31 240.06L360.94 239.81L360.69 239.81L360.56 239.69L360.69 239.44L359.69 239.44L359.56 239.31L359.94 238.69L359.69 238.56L359.81 238.44L359.31 238.44L359.19 238.31L359.31 237.81L359.19 237.69L358.94 237.69L358.69 237.44L359.06 236.81L358.06 236.81L357.69 236.56L357.81 236.31L357.56 236.19L357.81 235.69L356.44 235.56L356.31 235.44L356.56 234.94L356.44 234.69L356.56 234.56L356.31 234.44L356.44 234.19L355.56 234.06L355.19 233.81L355.31 233.69L354.94 233.69L354.69 233.44L354.44 233.44L354.31 233.31L354.56 232.94L354.31 232.94L354.19 232.81L354.31 232.69L354.19 232.56L354.31 232.44L354.19 232.31L353.94 232.31L353.69 232.06L353.81 231.94L353.56 231.94L353.44 231.81L353.56 231.69L353.31 231.69L353.19 231.56L353.31 231.44L352.81 231.44L352.69 231.31L352.81 231.06L352.06 231.06L351.94 230.94L352.31 230.31L351.69 230.31L351.56 230.19L351.69 229.94L351.56 229.81L351.06 229.81L350.94 229.69L351.19 229.31L350.94 229.31L350.81 229.19L350.94 228.94L350.31 228.94L350.19 228.81L350.44 228.31L349.81 228.31L349.31 228.06L349.44 227.56L349.81 226.94L348.69 226.94L348.56 226.81L348.69 226.69L348.19 226.69L348.06 226.56L348.31 226.19L347.69 226.19L347.44 225.94L347.19 225.94L346.94 225.56L346.44 225.56L346.31 225.44L346.81 224.69L345.56 224.69L345.44 224.56L345.56 224.44L345.44 224.31L345.56 224.19L344.94 223.94L345.31 223.31L344.56 223.31L344.44 223.19L344.56 222.94L343.69 222.94L343.44 222.69L343.44 222.31L343.56 222.19L342.69 222.06L342.56 221.94L342.69 221.81L342.19 221.81L341.81 221.56L341.94 221.31L341.06 221.19L340.94 221.06L341.06 220.81L340.81 220.69L341.06 220.31L340.81 220.19L340.94 220.06L340.44 220.06L340.06 219.81L339.81 219.81L339.69 219.69L339.81 219.44L339.31 219.19L339.44 218.94L339.19 218.81L339.31 218.69L339.06 218.69L338.81 218.44L338.44 218.31L338.31 218.19L338.44 217.94L337.31 217.81L337.19 217.69L337.31 217.56L336.94 217.56L336.81 217.44L336.94 217.19L336.69 217.19L336.56 217.06L336.81 216.56L336.31 216.56L336.19 216.44L335.69 216.44L335.56 216.31L335.94 215.69L334.56 215.69L334.44 215.56L334.44 215.31L334.69 214.94L333.94 214.94L333.31 214.69L333.81 213.81L332.94 213.81L332.81 213.69L332.94 213.44L331.69 213.44L331.31 213.19L331.44 212.94L331.19 212.69L330.31 212.69L329.94 212.44L330.06 212.19L329.81 212.19L329.69 212.06L329.81 211.94L329.31 211.94L329.19 211.81L329.44 211.44L329.19 211.44L329.06 211.31L329.19 211.19L328.56 211.19L328.44 211.06L328.69 210.69L327.81 210.69L327.69 210.56L327.81 210.31L327.19 210.31L327.06 210.06L327.31 209.69L326.44 209.69L326.31 209.56L326.56 209.19L325.94 209.19L325.56 208.94L325.69 208.81L325.56 208.69L325.69 208.56L325.56 208.44L324.94 208.44L324.31 208.19L324.19 208.06L324.44 207.56L323.69 207.56L323.31 207.19L323.44 207.06L322.69 207.06L322.56 206.94L322.69 206.81L322.44 206.69L322.56 206.56L322.06 206.56L321.94 206.44L322.19 206.06L321.69 206.06L321.31 205.81L321.44 205.56L321.19 205.44L321.31 205.31L320.69 205.19L320.56 205.06L320.69 204.81L319.94 204.81L319.81 204.69L319.94 204.44L318.69 204.44L318.56 204.31L318.69 204.19L318.44 204.19L318.31 204.06L318.44 203.69L318.19 203.56L318.31 203.44L317.31 203.44L317.19 203.31L317.44 202.81L316.31 202.69L316.19 202.44L316.44 202.06L316.19 202.06L315.94 201.81L315.31 201.81L315.19 201.56L314.81 201.56L314.69 201.44L314.81 201.31L314.56 201.31L314.44 201.19L314.69 200.81L314.31 200.81L314.19 200.69L314.31 200.56L314.06 200.56L313.69 200.31L313.19 200.19L313.06 200.06L313.19 199.81L312.69 199.81L312.31 199.56L312.44 199.44L311.94 199.44L311.81 199.31L312.06 198.94L311.94 198.81L311.19 198.81L311.06 198.69L311.19 198.44L311.06 198.19L311.19 198.06L310.06 198.06L309.94 197.94L310.06 197.69L309.81 197.69L309.69 197.56L309.81 197.31L309.44 197.06L308.44 197.06L308.31 196.94L308.44 196.81L308.19 196.69L308.31 196.44L307.94 196.44L307.81 196.31L307.94 196.06L307.31 195.94L307.19 195.81L306.69 195.81L306.56 195.69L306.69 195.56L306.19 195.19L306.31 195.06L305.81 194.81L305.94 194.69L305.06 194.69L304.94 194.56L305.19 194.06L304.69 193.94L304.44 193.69L304.19 193.69L304.06 193.56L304.19 193.44L303.94 193.44L303.81 193.31L304.06 192.94L303.31 192.94L303.19 192.81L302.69 192.81L302.56 192.69L302.69 192.44L302.56 192.19L302.81 191.81L301.56 191.81L301.44 191.69L301.19 191.69L301.06 191.56L301.19 191.31L301.06 191.19L300.69 191.19L300.56 191.06L300.69 190.94L300.19 190.69L300.31 190.44L299.94 190.44L299.56 190.19L299.19 190.19L299.06 190.06L299.19 189.94L298.69 189.69L298.69 189.44L298.81 189.31L297.94 189.19L297.81 189.06L297.94 188.94L297.06 188.69L296.94 188.56L297.06 188.31L296.69 188.31L296.56 188.19L296.69 188.06L296.31 188.06L296.19 187.94L296.31 187.81L296.06 187.81L295.94 187.69L296.06 187.44L295.69 187.44L295.31 187.19L295.44 186.94L294.94 186.69L294.31 186.69L294.19 186.56L294.31 186.44L294.06 186.31L294.19 186.19L293.94 186.19L293.56 185.94L293.69 185.69L293.19 185.69L293.06 185.56L293.19 185.44L292.56 185.44L292.44 185.31L292.69 184.94L292.19 184.94L292.06 184.81L292.19 184.69L291.44 184.69L291.31 184.44L291.56 184.06L290.81 184.06L290.69 183.94L290.81 183.69L290.19 183.69L290.06 183.56L290.19 183.31L289.81 183.31L289.69 183.19L289.81 183.06L289.44 183.06L289.31 182.94L289.44 182.81L289.19 182.69L289.31 182.56L288.94 182.56L288.19 181.94L287.56 181.81L287.44 181.69L287.69 181.31L287.06 181.31L286.94 181.19L287.06 180.94L286.69 180.81L286.56 180.69L286.69 180.56L285.69 180.44L285.56 180.19L285.81 179.69L284.94 179.69L284.81 179.56L284.94 179.44L284.44 179.44L284.31 179.31L284.44 179.19L284.19 179.19L284.06 179.06L284.19 178.94L283.69 178.94L283.56 178.81L283.69 178.69L283.56 178.56L283.19 178.56L283.06 178.44L283.19 178.31L282.69 178.06L282.81 177.94L282.56 177.94L281.94 177.56L282.06 177.44L281.44 177.31L281.31 177.19L281.44 176.94L281.06 176.94L280.94 176.81L281.06 176.69L280.19 176.56L280.06 176.44L280.31 176.06L279.56 175.94L279.44 175.81L279.56 175.69L279.19 175.69L279.06 175.56L279.19 175.44L278.81 175.44L278.69 175.31L278.81 175.19L278.56 175.19L278.44 175.06L278.56 174.81L277.69 174.56L277.56 174.44L277.69 174.31L277.56 174.19L276.94 174.19L276.81 174.06L277.06 173.69L276.94 173.56L276.56 173.56L276.19 173.31L276.31 173.06L275.81 173.06L275.69 172.94L275.81 172.81L275.19 172.69L275.06 172.56L275.19 172.31L274.69 172.31L274.56 172.19L274.69 171.94L274.06 171.94L273.94 171.81L274.06 171.56L273.81 171.56L273.69 171.44L273.81 171.31L272.94 171.19L272.81 171.06L272.94 170.81L272.44 170.81L272.31 170.69L272.44 170.56L272.19 170.56L272.06 170.44L272.19 170.31L271.94 170.31L271.81 170.19L271.94 170.06L271.56 170.06L271.44 169.94L271.69 169.56L271.06 169.56L270.94 169.44L271.06 169.31L270.56 169.06L270.31 169.06L270.19 168.94L270.31 168.81L270.06 168.81L269.94 168.69L270.06 168.56L269.81 168.56L269.69 168.44L269.81 168.31L269.31 168.31L269.19 168.19L269.31 168.06L268.69 167.81L268.81 167.69L268.44 167.69L268.31 167.56L268.56 167.19L268.06 167.19L267.94 167.06L268.06 166.94L267.56 166.69L267.19 166.69L267.06 166.56L267.19 166.44L266.94 166.44L266.81 166.31L266.94 166.19L266.06 165.81L266.19 165.56L265.69 165.44L265.56 165.31L265.69 165.19L265.31 165.19L265.19 165.06L265.31 164.94L264.69 164.69L264.81 164.56L264.19 164.44L264.06 164.31L264.19 164.06L263.69 163.81L263.44 163.81L263.31 163.69L263.44 163.44L262.81 163.31L262.69 163.19L262.81 163.06L262.19 162.94L262.06 162.81L262.19 162.69L261.94 162.69L261.81 162.56L261.94 162.44L261.31 162.44L261.19 162.31L261.31 162.06L261.06 162.06L260.94 161.94L261.06 161.69L260.44 161.69L260.31 161.56L260.44 161.44L259.94 161.44L259.81 161.31L260.06 160.94L259.19 160.69L259.06 160.56L259.19 160.31L258.94 160.31L258.44 160.06L258.06 160.06L257.94 159.94L258.19 159.56L257.81 159.56L257.69 159.44L257.81 159.31L257.56 159.19L256.81 159.06L256.69 158.94L256.81 158.69L256.56 158.69L256.06 158.44L256.19 158.19L255.44 158.06L255.31 157.94L255.44 157.69L255.06 157.69L254.94 157.56L255.06 157.44L254.81 157.44L254.69 157.31L254.81 157.19L254.44 157.19L254.31 157.06L254.44 156.94L254.06 156.94L253.94 156.81L254.06 156.56L253.31 156.44L253.19 156.31L253.31 156.06L252.94 156.06L252.81 155.94L252.94 155.81L252.56 155.81L252.44 155.69L252.56 155.44L251.81 155.31L251.69 155.19L251.81 155.06L251.06 154.94L250.94 154.81L251.06 154.56L250.69 154.56L250.56 154.44L250.69 154.31L249.81 154.19L249.69 153.94L249.94 153.56L249.06 153.44L248.94 153.31L249.06 153.19L248.69 153.19L248.56 153.06L248.69 152.94L248.31 152.94L248.19 152.81L248.31 152.69L247.94 152.69L247.81 152.56L247.94 152.31L247.44 152.31L247.31 152.19L247.44 152.06L247.06 152.06L246.94 151.94L247.06 151.69L246.69 151.69L246.56 151.56L246.69 151.44L246.19 151.44L246.06 151.31L246.19 151.19L245.81 151.19L245.69 151.06L245.81 150.94L245.19 150.94L245.06 150.81L245.31 150.44L244.44 150.31L244.31 150.19L244.44 149.94L244.06 149.94L243.94 149.81L244.06 149.69L243.56 149.69L243.44 149.56L243.56 149.44L243.06 149.44L242.94 149.31L243.06 149.06L242.56 149.06L242.44 148.94L242.56 148.69L242.31 148.69L242.19 148.56L241.56 148.56L241.44 148.44L241.69 148.06L241.19 148.06L241.06 147.94L241.19 147.69L240.69 147.69L240.56 147.56L240.69 147.44L240.19 147.44L240.06 147.31L240.19 147.06L239.69 147.06L239.56 146.94L239.69 146.81L239.19 146.81L239.06 146.69L239.19 146.44L238.69 146.44L238.56 146.31L238.69 146.19L238.06 146.19L237.94 146.06L238.19 145.69L237.69 145.69L237.56 145.56L237.69 145.44L237.06 145.44L236.94 145.31L237.19 144.94L236.56 144.94L236.44 144.81L236.56 144.69L236.06 144.69L235.94 144.56L236.06 144.44L235.44 144.44L235.31 144.31L235.56 143.94L234.94 143.94L234.81 143.81L234.94 143.56L234.44 143.56L234.31 143.44L234.44 143.19L233.81 143.19L233.69 143.06L233.81 142.81L233.31 142.81L233.19 142.69L233.31 142.44L232.56 142.44L232.44 142.31L232.69 141.94L232.06 141.94L231.94 141.81L232.06 141.69L231.44 141.69L231.31 141.56L231.44 141.31L230.69 141.31L230.56 141.19L230.81 140.81L230.19 140.81L230.06 140.69L230.19 140.44L229.56 140.44L229.44 140.31L229.56 140.06L228.81 140.06L228.69 139.94L228.94 139.56L228.31 139.56L228.19 139.44L228.31 139.19L227.56 139.19L227.44 139.06L227.69 138.69L226.94 138.69L226.81 138.56L227.06 138.19L226.19 138.19L226.06 138.06L226.31 137.69L225.69 137.69L225.56 137.56L225.69 137.31L224.81 137.31L224.69 137.19L224.94 136.81L224.06 136.81L223.94 136.69L224.19 136.31L223.44 136.31L223.31 136.19L223.56 135.81L222.81 135.81L222.69 135.69L222.81 135.44L221.94 135.44L221.81 135.31L222.06 134.94L221.19 134.94L221.06 134.69L221.31 134.31L220.31 134.31L220.19 134.19L220.44 133.81L219.56 133.81L219.44 133.69L219.69 133.31L218.81 133.31L218.69 133.06L218.94 132.69L217.94 132.69L217.81 132.56L218.06 132.06L217.19 132.06L217.06 131.94L217.19 131.69L216.31 131.69L216.19 131.44L216.44 131.06L215.44 131.06L215.31 130.94L215.56 130.44L214.44 130.44L214.31 130.31L214.56 129.94L213.56 129.94L213.44 129.69L213.69 129.31L212.69 129.31L212.56 129.19L212.81 128.69L211.56 128.69L211.44 128.56L211.81 127.94L210.81 127.94L210.69 127.69L210.94 127.31L209.81 127.31L209.69 127.06L209.94 126.69L208.81 126.69L208.69 126.56L208.94 126.06L207.56 126.06L207.44 125.94L207.81 125.31L206.56 125.31L206.44 125.19L206.81 124.56L205.44 124.56L205.31 124.44L205.69 123.81L204.31 123.81L204.19 123.69L204.56 123.06L203.19 123.06L203.06 122.94L203.44 122.31L201.94 122.31L201.81 122.06L202.19 121.44L200.69 121.44L200.56 121.31L201.06 120.56L199.56 120.56L199.44 120.44L199.81 119.69L198.19 119.69L198.06 119.44L198.44 118.81L196.81 118.81L196.69 118.69L197.19 117.94L195.44 117.94L195.31 117.81L195.81 116.94L194.06 116.94L193.94 116.81L194.44 115.94L192.56 115.94L192.44 115.81L192.94 114.94L190.94 114.94L190.81 114.81L191.06 114.56L191.44 113.81L189.31 113.81L189.19 113.69L189.44 113.44L189.81 112.69L187.69 112.69L187.56 112.56L187.81 112.31L188.19 111.56L186.06 111.56L185.94 111.44L186.56 110.31L184.31 110.31L184.19 110.19L184.81 109.19L182.31 109.19L182.19 109.06L182.44 108.81L182.94 107.81L180.56 107.81L180.44 107.56L181.06 106.56L178.44 106.56L178.31 106.44L179.06 105.19L176.31 105.19L176.19 104.94L176.94 103.69L174.06 103.69L173.94 103.44L174.69 102.19L171.69 102.19L171.56 101.94L171.81 101.69L172.44 100.56L169.19 100.56L169.06 100.31L169.94 98.81L166.56 98.81L166.44 98.56L167.31 97.06L163.69 97.06L163.56 96.94L164.56 95.19L160.56 95.19L160.44 95.06L161.56 93.06L157.31 93.06L157.19 92.94L157.44 92.69L157.56 92.31L157.81 92.06L158.44 90.94L153.81 90.94L153.69 90.69L154.94 88.56L149.94 88.56L149.81 88.31L150.06 88.06L150.44 87.19L150.69 86.94L151.19 85.94ZM393.81 300.31L393.94 300.19L394.19 300.31L394.06 300.44ZM384.69 300.31L384.81 300.19L385.06 300.31L384.94 300.44ZM384.06 300.31L384.19 300.19L384.31 300.31L384.19 300.44ZM382.44 300.31L382.56 300.19L382.69 300.31L382.56 300.44ZM394.81 300.31L395.06 299.94L395.31 300.31L395.19 300.44L394.94 300.44ZM382.94 300.31L383.19 299.94L383.44 300.31L383.31 300.44L383.06 300.44ZM394.44 292.56L394.56 292.44L394.69 292.56L394.56 292.69ZM147.06 83.19L142.06 83.19L144.56 87.56ZM137.44 80.06L140.06 84.44L142.56 80.06ZM132.44 76.69L134.94 81.06L137.56 76.69ZM126.69 73.06L129.19 77.44L131.81 73.06ZM120.06 68.19L122.56 72.56L125.19 68.19ZM112.19 62.94L114.69 67.31L117.31 62.94ZM102.56 55.94L105.19 60.44L107.69 55.94ZM90.19 47.19L92.69 51.56L95.31 47.19ZM72.69 34.44L75.31 38.94L77.81 34.44ZM42.94 13.69L45.44 18.06L48.06 13.69Z"/>
<path fill="#40e0d0" fill-rule="evenodd" d="M329.69 316.44L329.69 320.31L343.69 320.31L343.69 316.44ZM327.56 306.06L327.56 309.81L342.19 309.81L342.19 306.06ZM325.69 299.94L325.69 303.81L339.69 303.81L339.69 299.94ZM146.69 86.44L146.69 90.31L150.31 90.31L150.44 90.44L150.44 92.94L153.81 92.94L153.94 93.06L153.94 95.31L156.94 95.31L157.06 95.44L157.06 97.56L159.94 97.56L160.06 97.69L160.06 99.56L162.69 99.56L162.81 99.69L162.81 101.56L165.31 101.56L165.44 101.69L165.44 103.31L167.81 103.31L167.94 103.44L167.94 105.06L170.19 105.06L170.31 105.19L170.31 106.81L172.31 106.81L172.44 106.94L172.44 108.44L174.44 108.44L174.56 108.56L174.56 109.94L176.44 109.94L176.56 110.06L176.56 111.44L178.31 111.44L178.44 111.56L178.44 112.81L180.19 112.81L180.31 112.94L180.31 114.19L181.94 114.19L182.06 114.31L182.06 115.44L183.69 115.44L183.81 115.56L183.81 116.69L185.31 116.69L185.44 116.81L185.44 117.94L186.81 117.94L186.94 118.06L186.94 119.06L188.31 119.06L188.44 119.19L188.44 120.19L189.81 120.19L189.94 120.31L189.94 121.31L191.19 121.31L191.31 121.44L191.31 122.31L192.56 122.31L192.69 122.44L192.69 123.31L193.94 123.31L194.06 123.44L194.06 124.31L195.19 124.31L195.31 124.44L195.31 125.31L196.44 125.31L196.56 125.44L196.56 126.19L197.69 126.19L197.81 126.31L197.81 127.06L198.81 127.06L198.94 127.19L198.94 127.94L199.94 127.94L200.06 128.06L200.06 128.81L201.06 128.81L201.19 128.94L201.19 129.69L202.19 129.69L202.31 129.81L202.31 130.44L203.19 130.44L203.31 130.56L203.31 131.19L204.31 131.19L204.44 131.31L204.44 131.94L205.31 131.94L205.44 132.06L205.44 132.69L206.31 132.69L206.44 132.81L206.44 133.31L207.31 133.31L207.44 133.44L207.44 134.06L208.19 134.06L208.31 134.19L208.31 134.81L209.06 134.81L209.19 134.94L209.19 135.44L210.06 135.44L210.19 135.56L210.19 136.06L210.94 136.06L211.06 136.19L211.06 136.69L211.81 136.69L211.94 136.81L211.94 137.31L212.69 137.31L212.81 137.44L212.81 137.94L213.44 137.94L213.56 138.06L213.56 138.56L214.31 138.56L214.44 138.69L214.44 139.19L215.06 139.19L215.19 139.31L215.19 139.69L215.94 139.69L216.06 139.81L216.06 140.31L216.69 140.31L216.81 140.44L216.81 140.81L217.44 140.81L217.56 140.94L217.56 141.44L218.19 141.44L218.31 141.56L218.31 141.94L218.94 141.94L219.06 142.06L219.06 142.44L219.69 142.44L219.81 142.56L219.81 143.06L220.31 143.06L220.44 143.19L220.44 143.56L221.06 143.56L221.19 143.69L221.19 144.06L221.69 144.06L221.81 144.19L221.81 144.56L222.44 144.56L222.56 144.69L222.56 145.06L223.06 145.06L223.19 145.19L223.19 145.56L223.69 145.56L223.81 145.69L223.81 146.06L224.44 146.06L224.56 146.19L224.56 146.56L225.06 146.56L225.19 146.69L225.19 147.06L225.69 147.06L225.81 147.19L225.81 147.44L226.31 147.44L226.44 147.56L226.44 147.94L226.94 147.94L227.06 148.06L227.06 148.44L227.44 148.44L227.56 148.56L227.56 148.81L228.06 148.81L228.19 148.94L228.19 149.31L228.69 149.31L228.81 149.44L228.81 149.81L229.19 149.81L229.31 149.94L229.31 150.19L229.81 150.19L229.94 150.31L229.94 150.56L230.31 150.56L230.44 150.69L230.44 151.06L230.94 151.06L231.06 151.19L231.06 151.44L231.44 151.44L231.56 151.56L231.56 151.81L232.06 151.81L232.19 151.94L232.19 152.31L232.56 152.31L232.69 152.44L232.69 152.69L233.06 152.69L233.19 152.81L233.19 153.06L233.56 153.06L233.69 153.19L233.69 153.44L234.06 153.44L234.19 153.56L234.19 153.81L234.56 153.81L234.69 153.94L234.69 154.31L235.19 154.31L235.31 154.44L235.31 154.69L235.56 154.69L235.69 154.94L236.06 154.94L236.19 155.06L236.19 155.31L236.56 155.31L236.69 155.44L236.69 155.69L237.06 155.69L237.19 155.81L237.19 156.06L237.56 156.06L237.69 156.19L237.69 156.44L238.06 156.44L238.19 156.56L238.19 156.81L238.44 156.81L238.56 156.94L238.56 157.19L238.94 157.19L239.06 157.44L239.44 157.44L239.56 157.56L239.56 157.81L239.81 157.81L239.94 158.06L240.31 158.06L240.44 158.19L240.44 158.56L240.69 158.56L240.81 158.81L241.19 158.81L241.31 158.94L241.31 159.19L241.56 159.19L241.69 159.31L241.69 159.56L242.06 159.56L242.19 159.81L242.44 159.81L242.56 160.06L242.94 160.06L243.06 160.19L243.06 160.44L243.31 160.44L243.44 160.56L243.44 160.81L243.69 160.81L243.81 160.94L243.81 161.19L244.19 161.19L244.31 161.44L244.56 161.44L244.69 161.69L244.94 161.69L245.06 161.81L245.06 162.06L245.31 162.06L245.44 162.31L245.69 162.31L245.81 162.44L245.81 162.69L246.06 162.69L246.19 162.81L246.19 163.06L246.44 163.06L246.56 163.31L246.94 163.31L247.06 163.56L247.31 163.56L247.44 163.81L247.69 163.81L247.81 163.94L247.81 164.19L248.31 164.31L248.44 164.44L248.44 164.81L248.69 164.81L248.81 165.06L249.06 165.06L249.19 165.31L249.44 165.31L249.56 165.44L249.56 165.69L250.19 165.81L250.31 165.94L250.31 166.19L250.56 166.19L250.69 166.31L250.69 166.56L250.94 166.56L251.06 166.81L251.19 166.81L251.31 167.06L251.56 167.06L251.69 167.31L252.19 167.44L252.31 167.56L252.31 167.94L252.56 167.94L252.69 168.19L252.94 168.19L253.19 168.31L253.31 168.56L253.56 168.56L253.69 168.69L253.69 169.06L254.19 169.19L254.31 169.31L254.31 169.56L254.81 169.69L254.94 169.81L254.94 170.06L255.19 170.06L255.56 170.56L255.81 170.56L255.94 170.69L255.94 170.94L256.69 171.19L256.81 171.44L257.06 171.44L257.19 171.56L257.19 171.94L257.56 171.94L257.69 172.06L257.69 172.31L257.94 172.31L258.06 172.56L258.31 172.69L258.31 172.94L258.81 173.06L258.94 173.31L259.19 173.44L259.19 173.69L259.69 173.81L259.81 174.06L260.06 174.19L260.06 174.44L260.44 174.56L260.56 174.81L260.81 174.81L260.94 174.94L260.94 175.19L261.31 175.31L261.44 175.56L261.81 175.69L261.94 175.81L261.94 176.06L262.06 176.06L262.19 176.31L262.44 176.31L262.81 176.81L263.19 176.94L263.31 177.06L263.31 177.31L263.56 177.44L263.56 177.69L263.94 177.69L264.06 177.94L264.31 178.06L264.31 178.31L264.81 178.56L264.81 178.81L265.44 179.06L265.56 179.31L265.81 179.44L265.81 179.69L266.19 179.69L266.31 179.81L266.31 180.06L266.56 180.19L266.56 180.44L266.94 180.56L267.06 180.69L267.06 180.94L267.44 181.06L267.94 181.69L268.44 181.94L268.44 182.19L268.81 182.31L268.94 182.56L269.19 182.69L269.31 183.31L269.69 183.31L269.81 183.56L270.06 183.69L270.06 183.94L270.44 184.19L270.44 184.44L271.06 184.56L271.31 185.06L271.81 185.44L271.81 185.69L272.06 185.69L272.19 185.94L272.31 185.94L272.44 186.19L272.81 186.44L272.81 186.56L273.19 186.69L273.44 187.06L273.44 187.31L273.81 187.44L274.06 187.81L274.31 187.94L274.44 188.31L274.81 188.31L274.94 188.44L274.94 188.69L275.31 188.69L275.44 188.94L275.69 189.06L275.81 189.56L276.19 189.69L276.31 189.94L276.69 190.19L276.81 190.69L277.31 190.94L277.44 191.19L277.81 191.44L277.81 191.69L277.94 191.81L278.19 191.81L278.31 192.06L278.56 192.19L278.56 192.56L278.81 192.56L279.19 192.94L279.19 193.19L279.31 193.19L279.56 193.56L279.94 193.81L279.94 194.06L280.44 194.31L280.44 194.69L280.69 194.69L280.81 194.94L281.06 195.06L281.06 195.31L281.31 195.44L281.31 195.69L281.56 195.69L281.81 196.06L282.31 196.31L282.31 196.94L283.06 197.44L283.06 197.69L283.31 198.06L283.69 198.31L283.69 198.56L283.94 198.56L284.31 198.94L284.44 199.44L284.56 199.44L284.69 199.69L285.19 199.81L285.44 200.06L285.44 200.69L285.81 200.81L285.94 201.06L286.31 201.31L286.31 201.69L286.81 202.06L287.06 202.81L287.31 202.81L287.44 202.94L287.44 203.31L287.69 203.31L287.81 203.44L287.81 203.94L288.06 203.94L288.19 204.06L288.19 204.44L288.44 204.56L288.44 204.81L288.69 205.06L288.69 205.31L288.94 205.31L289.06 205.44L289.19 206.06L289.69 206.44L289.69 206.81L289.94 206.81L290.06 206.94L290.06 207.19L290.44 207.81L290.44 208.31L290.69 208.31L290.94 208.56L290.94 208.94L291.19 208.94L291.31 209.06L291.31 209.31L291.56 209.44L291.69 210.19L292.31 210.56L292.44 210.94L292.69 211.19L292.69 211.81L293.06 211.81L293.31 212.19L293.31 212.69L293.44 212.81L293.69 212.81L293.94 213.06L294.06 213.81L294.31 213.81L294.56 214.19L294.94 214.44L295.06 214.94L295.44 214.94L295.56 215.19L295.81 215.31L295.81 215.81L296.06 215.81L296.19 215.94L296.31 216.44L296.44 216.44L297.06 217.19L297.06 217.81L297.31 217.81L297.81 218.06L297.81 218.44L298.06 218.44L298.19 218.56L298.19 218.94L298.44 218.94L298.69 219.19L298.69 219.81L298.81 219.81L298.94 220.06L299.31 220.06L299.44 220.19L299.44 220.44L299.81 220.69L299.81 221.44L300.06 221.44L300.19 221.69L300.44 221.81L300.44 222.06L300.69 222.06L300.81 222.19L300.94 223.19L301.44 223.19L301.56 223.31L301.56 224.06L301.81 224.69L302.19 224.69L302.56 224.94L302.56 225.44L302.69 225.69L302.94 225.81L303.06 226.31L303.19 226.31L303.31 226.56L303.56 226.56L303.69 226.69L303.69 227.44L303.81 227.44L303.94 227.56L303.94 227.81L304.19 227.94L304.19 228.56L304.31 228.69L304.31 228.94L304.56 229.06L304.69 230.19L304.94 230.19L305.06 230.31L305.06 230.81L305.31 230.81L305.44 230.94L305.44 232.06L305.81 232.06L305.94 232.19L306.06 233.56L306.31 233.69L306.31 234.31L306.44 234.56L306.69 234.56L306.81 234.69L306.81 234.94L307.19 235.44L307.19 236.69L307.44 236.69L307.56 236.81L307.56 237.19L307.69 237.31L307.69 238.19L307.94 238.19L308.06 238.31L308.06 239.56L308.44 239.56L308.56 239.69L308.56 240.31L308.81 240.44L308.81 240.81L309.06 241.06L309.06 242.44L309.19 242.44L309.31 242.69L309.69 242.69L309.81 242.81L309.94 243.44L310.19 243.56L310.19 244.19L310.44 244.19L310.81 244.69L310.81 245.56L311.06 245.69L311.06 247.44L311.31 247.44L311.44 247.56L311.44 247.81L311.69 247.81L311.81 247.94L311.81 249.19L312.06 249.19L312.19 249.31L312.19 249.56L312.56 249.56L312.69 249.69L312.69 249.94L312.81 250.06L312.81 250.69L313.06 250.81L313.06 252.19L313.44 252.19L313.56 252.31L313.56 253.31L314.06 253.31L314.19 253.44L314.19 254.19L314.56 254.19L314.69 254.31L314.69 255.19L314.94 255.19L315.06 255.31L315.06 256.81L315.44 256.81L315.56 256.94L315.56 257.44L315.81 257.44L315.94 257.56L315.94 258.94L316.19 258.94L316.31 259.06L316.31 260.44L316.56 260.44L316.69 260.56L316.69 261.31L316.94 261.31L317.06 261.56L317.44 261.56L317.56 261.69L317.56 264.19L317.81 264.19L317.94 264.31L317.94 264.94L318.94 264.94L319.06 265.06L319.06 267.81L319.44 267.81L319.56 267.94L319.56 268.31L320.06 268.31L320.19 268.44L320.31 269.31L320.06 269.44L320.06 273.31L320.44 273.31L320.56 273.44L320.56 273.94L321.56 273.94L321.69 274.06L321.69 275.31L322.06 275.31L322.19 275.44L322.19 275.69L321.94 275.81L321.94 279.69L322.19 279.69L322.31 279.81L322.31 280.31L322.19 280.44L321.81 280.44L321.81 284.31L324.44 284.31L324.56 284.44L324.56 285.06L324.44 285.19L323.94 285.19L323.94 289.06L324.56 289.06L324.69 289.19L324.69 291.06L325.94 291.06L326.06 291.19L326.06 293.44L327.06 293.44L327.19 293.56L327.19 295.56L327.06 295.69L325.81 295.69L325.81 299.44L337.31 299.44L337.31 295.69L335.31 295.69L335.19 295.56L335.19 292.31L334.94 292.31L334.81 292.19L334.81 289.56L333.31 289.56L333.19 289.44L333.19 287.44L333.31 287.31L334.81 287.31L334.81 283.44L333.19 283.44L333.06 283.31L333.06 281.94L331.31 281.94L331.19 281.81L331.19 277.94L330.31 277.94L330.19 277.81L330.19 276.81L329.94 276.81L329.81 276.69L329.81 275.81L329.44 275.81L329.31 275.69L329.31 274.81L329.06 274.81L328.94 274.69L328.94 273.94L328.19 273.94L328.06 273.81L328.06 273.06L327.81 273.06L327.69 272.94L327.69 270.06L326.44 270.06L326.31 269.94L326.31 268.19L325.94 268.19L325.81 268.06L325.81 267.56L325.56 267.56L325.44 267.44L325.44 265.94L325.19 265.81L325.19 264.06L324.81 264.06L324.69 263.94L324.69 263.56L323.94 263.56L323.81 263.44L323.81 262.69L323.44 262.69L323.31 262.56L323.31 260.69L323.06 260.31L323.06 260.06L322.81 259.94L322.81 259.06L322.19 259.06L322.06 258.94L322.06 257.19L321.81 257.19L321.69 257.06L321.69 254.81L320.81 254.81L320.69 254.69L320.69 254.06L320.44 254.06L320.31 253.81L320.06 253.69L320.06 253.19L319.81 253.19L319.69 253.06L319.56 252.06L319.44 251.94L319.44 250.94L318.94 250.94L318.69 250.56L318.69 249.44L318.44 249.44L318.31 249.31L318.31 248.44L318.06 248.44L317.94 248.31L317.94 247.56L317.69 247.56L317.56 247.44L317.56 245.94L316.56 245.94L316.44 245.81L316.44 244.81L316.19 244.69L316.19 242.94L315.81 242.94L315.69 242.81L315.69 242.19L315.31 242.19L315.19 242.06L315.19 241.69L314.94 241.69L314.81 241.56L314.81 240.94L314.69 240.94L314.31 240.44L314.31 239.56L314.19 239.31L313.94 239.19L313.94 238.94L313.69 238.81L313.69 237.94L313.44 237.94L313.31 237.81L313.31 237.31L312.94 237.19L312.81 237.06L312.81 236.81L312.56 236.69L312.56 236.44L312.31 236.31L312.31 235.44L312.19 235.19L311.94 235.19L311.81 235.06L311.81 233.56L311.56 233.56L311.44 233.44L311.19 232.06L310.94 231.94L310.94 231.44L310.56 230.94L310.44 230.31L310.19 230.19L310.06 229.44L309.81 229.31L309.81 228.94L309.69 228.81L309.69 227.94L309.44 227.94L309.31 227.81L309.19 227.06L308.81 226.81L308.69 225.31L308.44 225.31L308.31 225.19L308.31 224.81L307.94 224.56L307.94 223.81L307.81 223.56L307.56 223.56L307.44 223.44L307.44 222.81L307.31 222.69L307.31 222.44L307.19 222.31L306.94 222.31L306.81 222.19L306.81 221.81L306.31 221.56L306.31 220.81L306.06 220.81L305.94 220.69L305.94 220.31L305.56 220.31L305.31 220.06L305.31 219.06L305.06 218.94L305.06 218.56L304.69 218.56L304.44 218.31L304.44 217.81L304.06 217.81L303.94 217.56L303.44 217.19L303.44 216.44L303.19 216.31L303.19 216.06L303.06 215.94L302.81 215.94L302.44 215.69L302.44 215.19L302.31 215.19L302.06 214.69L301.56 214.31L301.56 213.94L300.31 212.81L300.19 212.31L299.94 212.31L299.81 212.19L299.81 211.81L299.56 211.81L299.44 211.69L299.44 211.06L298.94 211.06L298.69 210.69L298.56 210.19L298.31 210.19L298.19 210.06L298.19 209.81L297.81 209.81L297.69 209.69L297.56 209.06L297.31 208.94L297.31 208.56L297.06 208.56L296.94 208.44L296.81 207.69L296.56 207.69L296.44 207.56L296.44 207.19L296.19 207.06L296.06 206.56L295.44 206.44L295.31 206.31L295.19 205.44L295.06 205.44L294.69 204.94L294.69 204.56L294.19 204.19L294.19 203.81L293.94 203.69L293.69 203.19L293.69 202.81L293.44 202.69L293.19 202.19L292.94 202.19L292.81 202.06L292.69 201.44L292.44 201.31L292.44 201.06L292.19 200.81L292.19 200.31L291.94 200.31L291.81 200.19L291.81 199.81L291.56 199.69L291.56 199.44L291.06 199.19L291.06 198.94L290.81 198.81L290.56 198.19L290.19 197.94L290.06 197.44L289.81 197.31L289.44 196.81L289.19 196.81L289.06 196.69L289.06 196.19L288.69 195.69L288.44 195.69L288.19 195.44L288.06 194.94L287.94 194.94L287.69 194.56L287.44 194.56L287.19 194.19L286.81 193.94L286.69 193.44L286.06 192.94L286.06 192.31L285.69 192.31L285.56 192.06L285.31 191.94L285.31 191.69L284.69 191.44L284.69 191.06L284.19 190.69L284.19 190.31L283.69 190.31L283.56 190.19L283.56 189.81L283.31 189.44L282.94 189.19L282.94 188.94L282.69 188.94L282.56 188.69L282.31 188.69L282.19 188.56L282.19 188.31L282.06 188.31L281.94 188.06L281.69 188.06L281.56 187.94L281.44 187.44L281.19 187.44L281.06 187.31L281.06 187.06L280.81 187.06L280.44 186.81L280.31 186.19L279.31 185.44L279.31 185.06L278.94 184.81L278.69 184.81L278.56 184.69L278.56 184.44L278.19 184.44L277.94 183.94L277.81 183.94L277.56 183.56L277.06 183.31L276.94 182.81L276.56 182.69L276.44 182.44L276.19 182.44L276.06 182.31L276.06 182.06L275.94 182.06L275.81 181.81L275.56 181.81L275.44 181.69L275.44 181.44L274.94 181.06L274.81 180.69L274.56 180.56L274.56 180.31L274.19 180.31L273.69 179.94L273.69 179.69L273.56 179.69L273.44 179.44L273.06 179.44L272.81 178.81L272.56 178.69L272.56 178.44L272.19 178.44L272.06 178.31L272.06 178.06L271.94 178.06L271.81 177.81L271.44 177.69L271.31 177.44L271.19 177.44L271.06 177.19L269.94 176.19L269.94 175.94L269.44 175.69L269.44 175.44L269.31 175.44L269.19 175.19L268.56 174.94L268.44 174.81L268.44 174.56L268.06 174.56L267.94 174.44L267.94 174.19L267.69 174.06L267.69 173.81L267.31 173.81L267.19 173.69L267.19 173.44L266.94 173.44L266.56 172.94L266.19 172.81L266.06 172.69L266.06 172.44L265.94 172.44L265.81 172.19L265.31 171.81L265.31 171.69L264.81 171.56L264.69 171.31L264.44 171.19L264.44 170.94L264.31 170.94L264.19 170.69L263.69 170.56L263.56 170.31L263.31 170.19L263.31 169.94L262.81 169.81L262.69 169.69L262.69 169.44L262.56 169.44L262.44 169.19L261.94 169.06L261.81 168.94L261.81 168.69L261.69 168.69L261.31 168.19L260.81 168.06L260.69 167.94L260.69 167.69L260.44 167.69L260.31 167.56L260.31 167.31L259.81 167.06L259.56 167.06L259.44 166.81L259.19 166.69L259.19 166.44L258.94 166.44L258.81 166.19L258.56 166.19L258.44 166.06L258.44 165.81L257.94 165.69L257.81 165.56L257.81 165.31L257.31 165.19L257.19 165.06L257.19 164.81L256.94 164.81L256.56 164.31L256.31 164.31L256.19 164.06L255.94 164.06L255.81 163.94L255.81 163.56L255.31 163.44L255.19 163.19L254.94 163.19L254.81 162.94L254.56 162.94L254.44 162.69L254.19 162.56L254.19 162.31L253.94 162.31L253.81 162.06L253.56 162.06L253.44 161.81L253.19 161.81L253.06 161.69L253.06 161.44L252.81 161.44L252.69 161.19L252.44 161.19L252.31 160.94L252.06 160.94L251.94 160.81L251.94 160.56L251.31 160.44L251.19 160.31L251.19 159.94L250.56 159.81L250.44 159.69L250.44 159.44L250.19 159.44L250.06 159.19L249.81 159.19L249.69 159.06L249.69 158.81L249.44 158.81L249.31 158.69L249.31 158.44L249.06 158.44L248.94 158.19L248.56 158.19L248.44 157.94L248.19 157.94L248.06 157.81L248.06 157.56L247.81 157.56L247.69 157.31L247.44 157.31L247.31 157.19L247.31 156.94L246.94 156.94L246.81 156.81L246.81 156.56L246.56 156.56L246.44 156.31L246.19 156.31L246.06 156.06L245.69 156.06L245.56 155.94L245.56 155.69L245.31 155.69L245.19 155.56L245.19 155.31L244.81 155.31L244.69 155.06L244.44 155.06L244.31 154.94L244.31 154.69L243.94 154.69L243.81 154.56L243.81 154.31L243.44 154.31L243.31 154.19L243.31 153.94L243.06 153.94L242.94 153.69L242.56 153.69L242.44 153.56L242.44 153.31L242.06 153.31L241.94 153.19L241.94 152.94L241.69 152.94L241.56 152.81L241.56 152.56L241.19 152.56L241.06 152.44L241.06 152.19L240.69 152.19L240.56 151.94L240.19 151.94L240.06 151.81L240.06 151.44L239.69 151.44L239.56 151.19L239.19 151.19L239.06 151.06L239.06 150.81L238.69 150.81L238.56 150.69L238.56 150.44L238.19 150.44L238.06 150.31L238.06 149.94L237.69 149.94L237.56 149.69L237.19 149.69L237.06 149.56L237.06 149.19L236.69 149.19L236.56 149.06L236.56 148.81L236.06 148.81L235.94 148.69L235.94 148.44L235.56 148.44L235.44 148.31L235.44 147.94L235.06 147.94L234.94 147.69L234.44 147.69L234.31 147.56L234.31 147.19L233.94 147.19L233.81 147.06L233.81 146.69L233.31 146.69L233.19 146.56L233.19 146.31L232.69 146.31L232.56 146.19L232.56 145.94L232.19 145.94L232.06 145.81L232.06 145.44L231.56 145.44L231.44 145.31L231.44 145.06L230.94 145.06L230.81 144.94L230.81 144.56L230.31 144.56L230.19 144.44L230.19 144.06L229.69 144.06L229.56 143.94L229.56 143.69L229.06 143.69L228.94 143.56L228.94 143.19L228.44 143.19L228.31 143.06L228.31 142.69L227.81 142.69L227.69 142.56L227.69 142.19L227.19 142.19L227.06 142.06L227.06 141.69L226.44 141.69L226.31 141.56L226.31 141.19L225.81 141.19L225.69 141.06L225.69 140.69L225.19 140.69L225.06 140.56L225.06 140.19L224.44 140.19L224.31 140.06L224.31 139.69L223.69 139.69L223.56 139.56L223.56 139.19L222.94 139.19L222.81 139.06L222.81 138.69L222.31 138.69L222.19 138.56L222.19 138.06L221.56 138.06L221.44 137.94L221.44 137.56L220.81 137.56L220.69 137.44L220.69 137.06L219.94 137.06L219.81 136.94L219.81 136.44L219.19 136.44L219.06 136.31L219.06 135.94L218.44 135.94L218.31 135.81L218.31 135.31L217.56 135.31L217.44 135.19L217.44 134.69L216.69 134.69L216.56 134.56L216.56 134.19L215.94 134.19L215.81 134.06L215.81 133.56L215.06 133.56L214.94 133.44L214.94 132.94L214.06 132.94L213.94 132.81L213.94 132.31L213.19 132.31L213.06 132.19L213.06 131.56L212.31 131.56L212.19 131.44L212.19 130.94L211.31 130.94L211.19 130.81L211.19 130.31L210.31 130.31L210.19 130.19L210.19 129.56L209.44 129.56L209.31 129.44L209.31 128.81L208.31 128.81L208.19 128.69L208.19 128.06L207.31 128.06L207.19 127.94L207.19 127.31L206.31 127.31L206.19 127.19L206.19 126.56L205.19 126.56L205.06 126.44L205.06 125.81L204.06 125.81L203.94 125.69L203.94 124.94L202.94 124.94L202.81 124.81L202.81 124.19L201.69 124.19L201.56 124.06L201.56 123.31L200.56 123.31L200.44 123.19L200.44 122.44L199.31 122.44L199.19 122.31L199.19 121.44L197.94 121.44L197.81 121.31L197.81 120.44L196.69 120.44L196.56 120.31L196.56 119.56L195.31 119.56L195.19 119.44L195.19 118.56L193.94 118.56L193.81 118.44L193.81 117.44L192.44 117.44L192.31 117.31L192.31 116.31L190.94 116.31L190.81 116.19L190.81 115.31L189.31 115.31L189.19 115.19L189.19 114.06L187.69 114.06L187.56 113.94L187.56 112.94L186.06 112.94L185.94 112.81L185.94 111.56L184.31 111.56L184.19 111.44L184.19 110.31L182.44 110.31L182.31 110.19L182.31 108.94L180.56 108.94L180.44 108.81L180.44 107.56L178.56 107.56L178.44 107.44L178.44 106.06L176.44 106.06L176.31 105.94L176.31 104.56L174.19 104.56L174.06 104.44L174.06 102.94L171.94 102.94L171.81 102.81L171.81 101.31L169.44 101.31L169.31 101.19L169.31 99.56L166.81 99.56L166.69 99.44L166.69 97.69L164.06 97.69L163.94 97.56L163.94 95.81L161.06 95.81L160.94 95.69L160.94 93.69L157.94 93.69L157.81 93.56L157.81 91.44L154.44 91.44L154.31 91.31L154.31 89.06L150.69 89.06L150.56 88.94L150.56 86.44ZM142.69 83.56L142.69 87.44L146.44 87.44L146.44 83.56ZM138.06 80.44L138.06 84.19L141.94 84.19L141.94 80.44ZM133.06 76.94L133.06 80.69L136.94 80.69L136.94 76.94ZM127.31 73.19L127.31 77.06L131.19 77.06L131.19 73.19ZM120.69 68.19L120.69 72.06L124.44 72.06L124.44 68.19ZM112.81 62.81L112.81 66.56L116.69 66.56L116.69 62.81ZM103.19 55.69L103.19 59.56L107.06 59.56L107.06 55.69ZM90.81 46.81L90.81 50.69L94.69 50.69L94.69 46.81ZM73.31 34.06L73.31 37.94L77.19 37.94L77.19 34.06ZM43.56 13.19L43.56 17.06L47.44 17.06L47.44 13.19Z"/>
<path d="M75.33 318.4v-4.1M75.33 8v4.1M92.78 318.4v-4.1M92.78 8v4.1M105.17 318.4v-4.1M105.17 8v4.1M114.77 318.4v-4.1M114.77 8v4.1M122.62 318.4v-4.1M122.62 8v4.1M129.25 318.4v-4.1M129.25 8v4.1M135 318.4v-4.1M135 8v4.1M140.07 318.4v-4.1M140.07 8v4.1M144.6 318.4v-8.2M144.6 8v8.2M174.44 318.4v-4.1M174.44 8v4.1M191.89 318.4v-4.1M191.89 8v4.1M204.27 318.4v-4.1M204.27 8v4.1M213.87 318.4v-4.1M213.87 8v4.1M221.72 318.4v-4.1M221.72 8v4.1M228.36 318.4v-4.1M228.36 8v4.1M234.1 318.4v-4.1M234.1 8v4.1M239.17 318.4v-4.1M239.17 8v4.1M243.71 318.4v-8.2M243.71 8v8.2M273.54 318.4v-4.1M273.54 8v4.1M290.99 318.4v-4.1M290.99 8v4.1M303.37 318.4v-4.1M303.37 8v4.1M312.98 318.4v-4.1M312.98 8v4.1M320.83 318.4v-4.1M320.83 8v4.1M327.46 318.4v-4.1M327.46 8v4.1M333.21 318.4v-4.1M333.21 8v4.1M338.28 318.4v-4.1M338.28 8v4.1M342.81 318.4v-8.2M342.81 8v8.2M372.64 318.4v-4.1M372.64 8v4.1M390.1 318.4v-4.1M390.1 8v4.1M402.48 318.4v-4.1M402.48 8v4.1M412.08 318.4v-4.1M412.08 8v4.1M419.93 318.4v-4.1M419.93 8v4.1M426.56 318.4v-4.1M426.56 8v4.1M432.31 318.4v-4.1M432.31 8v4.1M437.38 318.4v-4.1M437.38 8v4.1M441.92 318.4v-8.2M441.92 8v8.2M471.75 318.4v-4.1M471.75 8v4.1M45.5 66.6h4.1M489.2 66.6h-4.1M45.5 60.52h4.1M489.2 60.52h-4.1M45.5 56.21h4.1M489.2 56.21h-4.1M45.5 52.87h4.1M489.2 52.87h-4.1M45.5 50.14h4.1M489.2 50.14h-4.1M45.5 47.83h4.1M489.2 47.83h-4.1M45.5 45.83h4.1M489.2 45.83h-4.1M45.5 44.07h4.1M489.2 44.07h-4.1M45.5 42.49h4.1M489.2 42.49h-4.1M45.5 76.98h8.2M489.2 76.98h-9M45.5 135.57h4.1M489.2 135.57h-4.1M45.5 129.5h4.1M489.2 129.5h-4.1M45.5 125.19h4.1M489.2 125.19h-4.1M45.5 121.85h4.1M489.2 121.85h-4.1M45.5 119.12h4.1M489.2 119.12h-4.1M45.5 116.81h4.1M489.2 116.81h-4.1M45.5 114.81h4.1M489.2 114.81h-4.1M45.5 113.04h4.1M489.2 113.04h-4.1M45.5 111.47h4.1M489.2 111.47h-4.1M45.5 145.96h8.2M489.2 145.96h-9M45.5 204.55h4.1M489.2 204.55h-4.1M45.5 198.48h4.1M489.2 198.48h-4.1M45.5 194.17h4.1M489.2 194.17h-4.1M45.5 190.83h4.1M489.2 190.83h-4.1M45.5 188.1h4.1M489.2 188.1h-4.1M45.5 185.79h4.1M489.2 185.79h-4.1M45.5 183.79h4.1M489.2 183.79h-4.1M45.5 182.02h4.1M489.2 182.02h-4.1M45.5 180.44h4.1M489.2 180.44h-4.1M45.5 214.93h8.2M489.2 214.93h-9M45.5 273.53h4.1M489.2 273.53h-4.1M45.5 267.46h4.1M489.2 267.46h-4.1M45.5 263.15h4.1M489.2 263.15h-4.1M45.5 259.8h4.1M489.2 259.8h-4.1M45.5 257.07h4.1M489.2 257.07h-4.1M45.5 254.76h4.1M489.2 254.76h-4.1M45.5 252.76h4.1M489.2 252.76h-4.1M45.5 251h4.1M489.2 251h-4.1M45.5 249.42h4.1M489.2 249.42h-4.1M45.5 283.91h8.2M489.2 283.91h-9" stroke="#000" stroke-width="1.0" fill="none"/>
<rect x="45.5" y="8" width="443.7" height="310.4" fill="none" stroke="#000" stroke-width="1.0"/>
<rect x="366" y="8" width="123.2" height="63.4" fill="#fff" stroke="#000" stroke-width="1"/>
<circle cx="379.2" cy="17.3" r="2.4" fill="#00ff00"/>
<text x="394.6" y="21.3" font-size="12.4" style="white-space:pre">N=20000 , τ=1.99</text>
<path d="M379.2 29.26L376.65 33.67L381.75 33.67Z" fill="#ff0000"/>
<text x="394.6" y="36.0" font-size="12.4" style="white-space:pre">N=10000 , τ=2.03</text>
<path d="M379.2 49.94L376.65 45.53L381.75 45.53Z" fill="#ffa500"/>
<text x="394.6" y="50.7" font-size="12.4" style="white-space:pre">N=5000   , τ=2.05</text>
<rect x="377.28" y="60.08" width="3.84" height="3.84" fill="#40e0d0"/>
<text x="394.6" y="65.4" font-size="12.4" style="white-space:pre">N=1000   , τ=2.10</text>
<text x="46.1" y="331.8" font-size="12.6" text-anchor="middle">1</text>
<text x="145.2" y="331.8" font-size="12.6" text-anchor="middle">10</text>
<text x="244.31" y="331.8" font-size="12.6" text-anchor="middle">100</text>
<text x="343.41" y="331.8" font-size="12.6" text-anchor="middle">1000</text>
<text x="442.52" y="331.8" font-size="12.6" text-anchor="middle">10000</text>
<text x="37.3" y="14.9" font-size="12.8" text-anchor="end">10</text>
<text x="37.5" y="7.1" font-size="8">0</text>
<text x="34.4" y="83.78" font-size="12.8" text-anchor="end">10</text>
<text x="34.7" y="76.28" font-size="8.2">-2</text>
<text x="34.4" y="152.76" font-size="12.8" text-anchor="end">10</text>
<text x="34.7" y="145.26" font-size="8.2">-4</text>
<text x="34.4" y="221.73" font-size="12.8" text-anchor="end">10</text>
<text x="34.7" y="214.23" font-size="8.2">-6</text>
<text x="34.4" y="290.71" font-size="12.8" text-anchor="end">10</text>
<text x="34.7" y="283.21" font-size="8.2">-8</text>
<text x="267.8" y="344.7" font-size="18.5" text-anchor="middle">s</text>
<text transform="translate(14.7 163.5) rotate(-90)" font-size="18" text-anchor="middle">P<tspan font-size="17" dy="-1.3">(</tspan><tspan dy="1.3">s</tspan><tspan font-size="17" dy="-1.3">)</tspan></text>
<text x="111.6" y="181.2" font-size="14.5">σ=0.05</text>
</svg>
</body></html>
